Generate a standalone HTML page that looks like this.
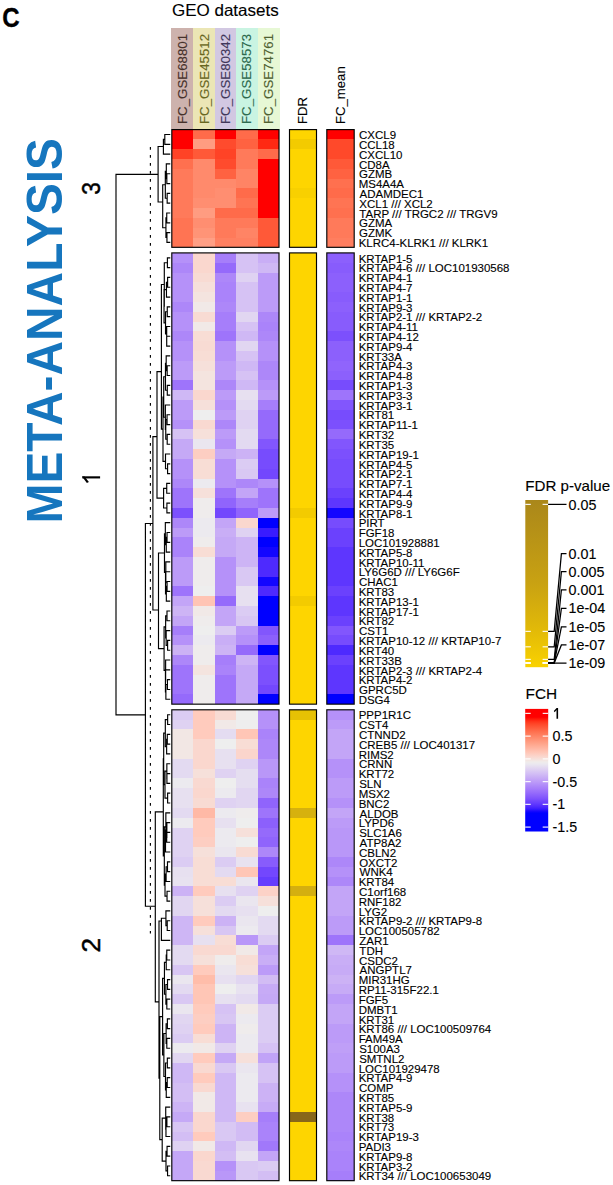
<!DOCTYPE html>
<html><head><meta charset="utf-8"><style>
html,body{margin:0;padding:0;background:#fff;overflow:hidden;}
svg{display:block;}
text{font-family:"Liberation Sans",sans-serif;}
</style></head><body>
<svg width="613" height="1185" viewBox="0 0 613 1185">
<rect x="0" y="0" width="613" height="1185" fill="#fff"/>
<rect x="171.20" y="28.10" width="22.09" height="100.60" fill="#cdb2ad" shape-rendering="crispEdges"/>
<rect x="193.24" y="28.10" width="21.49" height="100.60" fill="#ebe6b5" shape-rendering="crispEdges"/>
<rect x="214.68" y="28.10" width="21.49" height="100.60" fill="#d2c8e2" shape-rendering="crispEdges"/>
<rect x="236.12" y="28.10" width="21.49" height="100.60" fill="#c9f4e2" shape-rendering="crispEdges"/>
<rect x="257.56" y="28.10" width="22.04" height="100.60" fill="#e7f8d5" shape-rendering="crispEdges"/>
<rect x="171.80" y="129.60" width="21.49" height="9.86" fill="#ff0000" shape-rendering="crispEdges"/>
<rect x="193.24" y="129.60" width="21.49" height="9.86" fill="#ff6b4a" shape-rendering="crispEdges"/>
<rect x="214.68" y="129.60" width="21.49" height="9.86" fill="#ff0000" shape-rendering="crispEdges"/>
<rect x="236.12" y="129.60" width="21.49" height="9.86" fill="#ff6b4a" shape-rendering="crispEdges"/>
<rect x="257.56" y="129.60" width="21.49" height="9.86" fill="#ff0000" shape-rendering="crispEdges"/>
<rect x="289.50" y="129.60" width="27.00" height="9.86" fill="#fed500" shape-rendering="crispEdges"/>
<rect x="326.80" y="129.60" width="27.40" height="9.86" fill="#ff0000" shape-rendering="crispEdges"/>
<rect x="171.80" y="139.41" width="21.49" height="9.86" fill="#ff0000" shape-rendering="crispEdges"/>
<rect x="193.24" y="139.41" width="21.49" height="9.86" fill="#ff9c81" shape-rendering="crispEdges"/>
<rect x="214.68" y="139.41" width="21.49" height="9.86" fill="#ff4b2d" shape-rendering="crispEdges"/>
<rect x="236.12" y="139.41" width="21.49" height="9.86" fill="#ff6241" shape-rendering="crispEdges"/>
<rect x="257.56" y="139.41" width="21.49" height="9.86" fill="#ff2913" shape-rendering="crispEdges"/>
<rect x="289.50" y="139.41" width="27.00" height="9.86" fill="#f3cb00" shape-rendering="crispEdges"/>
<rect x="326.80" y="139.41" width="27.40" height="9.86" fill="#ff492a" shape-rendering="crispEdges"/>
<rect x="171.80" y="149.22" width="21.49" height="9.86" fill="#ff4326" shape-rendering="crispEdges"/>
<rect x="193.24" y="149.22" width="21.49" height="9.86" fill="#ff5938" shape-rendering="crispEdges"/>
<rect x="214.68" y="149.22" width="21.49" height="9.86" fill="#ff4326" shape-rendering="crispEdges"/>
<rect x="236.12" y="149.22" width="21.49" height="9.86" fill="#ff7a5a" shape-rendering="crispEdges"/>
<rect x="257.56" y="149.22" width="21.49" height="9.86" fill="#ff6b4a" shape-rendering="crispEdges"/>
<rect x="289.50" y="149.22" width="27.00" height="9.86" fill="#fed500" shape-rendering="crispEdges"/>
<rect x="326.80" y="149.22" width="27.40" height="9.86" fill="#ff492a" shape-rendering="crispEdges"/>
<rect x="171.80" y="159.03" width="21.49" height="9.86" fill="#ff704f" shape-rendering="crispEdges"/>
<rect x="193.24" y="159.03" width="21.49" height="9.86" fill="#ff8a6c" shape-rendering="crispEdges"/>
<rect x="214.68" y="159.03" width="21.49" height="9.86" fill="#ff4b2d" shape-rendering="crispEdges"/>
<rect x="236.12" y="159.03" width="21.49" height="9.86" fill="#ff7a5a" shape-rendering="crispEdges"/>
<rect x="257.56" y="159.03" width="21.49" height="9.86" fill="#ff0000" shape-rendering="crispEdges"/>
<rect x="289.50" y="159.03" width="27.00" height="9.86" fill="#fed500" shape-rendering="crispEdges"/>
<rect x="326.80" y="159.03" width="27.40" height="9.86" fill="#ff5938" shape-rendering="crispEdges"/>
<rect x="171.80" y="168.84" width="21.49" height="9.86" fill="#ff7a5a" shape-rendering="crispEdges"/>
<rect x="193.24" y="168.84" width="21.49" height="9.86" fill="#ff8a6c" shape-rendering="crispEdges"/>
<rect x="214.68" y="168.84" width="21.49" height="9.86" fill="#ff6241" shape-rendering="crispEdges"/>
<rect x="236.12" y="168.84" width="21.49" height="9.86" fill="#ff8465" shape-rendering="crispEdges"/>
<rect x="257.56" y="168.84" width="21.49" height="9.86" fill="#ff0000" shape-rendering="crispEdges"/>
<rect x="289.50" y="168.84" width="27.00" height="9.86" fill="#fed500" shape-rendering="crispEdges"/>
<rect x="326.80" y="168.84" width="27.40" height="9.86" fill="#ff6241" shape-rendering="crispEdges"/>
<rect x="171.80" y="178.65" width="21.49" height="9.86" fill="#ff7a5a" shape-rendering="crispEdges"/>
<rect x="193.24" y="178.65" width="21.49" height="9.86" fill="#ff8a6c" shape-rendering="crispEdges"/>
<rect x="214.68" y="178.65" width="21.49" height="9.86" fill="#ff8a6c" shape-rendering="crispEdges"/>
<rect x="236.12" y="178.65" width="21.49" height="9.86" fill="#ff8465" shape-rendering="crispEdges"/>
<rect x="257.56" y="178.65" width="21.49" height="9.86" fill="#ff0000" shape-rendering="crispEdges"/>
<rect x="289.50" y="178.65" width="27.00" height="9.86" fill="#fed500" shape-rendering="crispEdges"/>
<rect x="326.80" y="178.65" width="27.40" height="9.86" fill="#ff704f" shape-rendering="crispEdges"/>
<rect x="171.80" y="188.46" width="21.49" height="9.86" fill="#ff7a5a" shape-rendering="crispEdges"/>
<rect x="193.24" y="188.46" width="21.49" height="9.86" fill="#ff8a6c" shape-rendering="crispEdges"/>
<rect x="214.68" y="188.46" width="21.49" height="9.86" fill="#ff8e71" shape-rendering="crispEdges"/>
<rect x="236.12" y="188.46" width="21.49" height="9.86" fill="#ff6b4a" shape-rendering="crispEdges"/>
<rect x="257.56" y="188.46" width="21.49" height="9.86" fill="#ff0000" shape-rendering="crispEdges"/>
<rect x="289.50" y="188.46" width="27.00" height="9.86" fill="#f8d000" shape-rendering="crispEdges"/>
<rect x="326.80" y="188.46" width="27.40" height="9.86" fill="#ff6b4a" shape-rendering="crispEdges"/>
<rect x="171.80" y="198.27" width="21.49" height="9.86" fill="#ff7a5a" shape-rendering="crispEdges"/>
<rect x="193.24" y="198.27" width="21.49" height="9.86" fill="#ff8e71" shape-rendering="crispEdges"/>
<rect x="214.68" y="198.27" width="21.49" height="9.86" fill="#ff8e71" shape-rendering="crispEdges"/>
<rect x="236.12" y="198.27" width="21.49" height="9.86" fill="#ff7453" shape-rendering="crispEdges"/>
<rect x="257.56" y="198.27" width="21.49" height="9.86" fill="#ff0000" shape-rendering="crispEdges"/>
<rect x="289.50" y="198.27" width="27.00" height="9.86" fill="#fed500" shape-rendering="crispEdges"/>
<rect x="326.80" y="198.27" width="27.40" height="9.86" fill="#ff7453" shape-rendering="crispEdges"/>
<rect x="171.80" y="208.08" width="21.49" height="9.86" fill="#ff7a5a" shape-rendering="crispEdges"/>
<rect x="193.24" y="208.08" width="21.49" height="9.86" fill="#ff9c81" shape-rendering="crispEdges"/>
<rect x="214.68" y="208.08" width="21.49" height="9.86" fill="#ff6b4a" shape-rendering="crispEdges"/>
<rect x="236.12" y="208.08" width="21.49" height="9.86" fill="#ff6b4a" shape-rendering="crispEdges"/>
<rect x="257.56" y="208.08" width="21.49" height="9.86" fill="#ff0000" shape-rendering="crispEdges"/>
<rect x="289.50" y="208.08" width="27.00" height="9.86" fill="#fed500" shape-rendering="crispEdges"/>
<rect x="326.80" y="208.08" width="27.40" height="9.86" fill="#ff704f" shape-rendering="crispEdges"/>
<rect x="171.80" y="217.89" width="21.49" height="9.86" fill="#ff7453" shape-rendering="crispEdges"/>
<rect x="193.24" y="217.89" width="21.49" height="9.86" fill="#ff8e71" shape-rendering="crispEdges"/>
<rect x="214.68" y="217.89" width="21.49" height="9.86" fill="#ff7a5a" shape-rendering="crispEdges"/>
<rect x="236.12" y="217.89" width="21.49" height="9.86" fill="#ff7a5a" shape-rendering="crispEdges"/>
<rect x="257.56" y="217.89" width="21.49" height="9.86" fill="#ff5938" shape-rendering="crispEdges"/>
<rect x="289.50" y="217.89" width="27.00" height="9.86" fill="#fed500" shape-rendering="crispEdges"/>
<rect x="326.80" y="217.89" width="27.40" height="9.86" fill="#ff7a5a" shape-rendering="crispEdges"/>
<rect x="171.80" y="227.70" width="21.49" height="9.86" fill="#ff7453" shape-rendering="crispEdges"/>
<rect x="193.24" y="227.70" width="21.49" height="9.86" fill="#ff9477" shape-rendering="crispEdges"/>
<rect x="214.68" y="227.70" width="21.49" height="9.86" fill="#ff7a5a" shape-rendering="crispEdges"/>
<rect x="236.12" y="227.70" width="21.49" height="9.86" fill="#ff8465" shape-rendering="crispEdges"/>
<rect x="257.56" y="227.70" width="21.49" height="9.86" fill="#ff5938" shape-rendering="crispEdges"/>
<rect x="289.50" y="227.70" width="27.00" height="9.86" fill="#fed500" shape-rendering="crispEdges"/>
<rect x="326.80" y="227.70" width="27.40" height="9.86" fill="#ff7a5a" shape-rendering="crispEdges"/>
<rect x="171.80" y="237.51" width="21.49" height="9.86" fill="#ff7453" shape-rendering="crispEdges"/>
<rect x="193.24" y="237.51" width="21.49" height="9.86" fill="#ff9f85" shape-rendering="crispEdges"/>
<rect x="214.68" y="237.51" width="21.49" height="9.86" fill="#ff8061" shape-rendering="crispEdges"/>
<rect x="236.12" y="237.51" width="21.49" height="9.86" fill="#ff8061" shape-rendering="crispEdges"/>
<rect x="257.56" y="237.51" width="21.49" height="9.86" fill="#ff5938" shape-rendering="crispEdges"/>
<rect x="289.50" y="237.51" width="27.00" height="9.86" fill="#fed500" shape-rendering="crispEdges"/>
<rect x="326.80" y="237.51" width="27.40" height="9.86" fill="#ff7e5f" shape-rendering="crispEdges"/>
<rect x="171.80" y="129.60" width="107.20" height="117.72" fill="none" stroke="#000" stroke-width="1.15"/>
<rect x="289.50" y="129.60" width="27.00" height="117.72" fill="none" stroke="#000" stroke-width="1.15"/>
<rect x="326.80" y="129.60" width="27.40" height="117.72" fill="none" stroke="#000" stroke-width="1.15"/>
<rect x="171.80" y="252.90" width="21.49" height="9.86" fill="#b591f9" shape-rendering="crispEdges"/>
<rect x="193.24" y="252.90" width="21.49" height="9.86" fill="#fad7ce" shape-rendering="crispEdges"/>
<rect x="214.68" y="252.90" width="21.49" height="9.86" fill="#a67efa" shape-rendering="crispEdges"/>
<rect x="236.12" y="252.90" width="21.49" height="9.86" fill="#d6c2f4" shape-rendering="crispEdges"/>
<rect x="257.56" y="252.90" width="21.49" height="9.86" fill="#c9aef6" shape-rendering="crispEdges"/>
<rect x="289.50" y="252.90" width="27.00" height="9.86" fill="#fed500" shape-rendering="crispEdges"/>
<rect x="326.80" y="252.90" width="27.40" height="9.86" fill="#8c60fc" shape-rendering="crispEdges"/>
<rect x="171.80" y="262.71" width="21.49" height="9.86" fill="#ad87f9" shape-rendering="crispEdges"/>
<rect x="193.24" y="262.71" width="21.49" height="9.86" fill="#fad7ce" shape-rendering="crispEdges"/>
<rect x="214.68" y="262.71" width="21.49" height="9.86" fill="#956afb" shape-rendering="crispEdges"/>
<rect x="236.12" y="262.71" width="21.49" height="9.86" fill="#d6c2f4" shape-rendering="crispEdges"/>
<rect x="257.56" y="262.71" width="21.49" height="9.86" fill="#cfb8f5" shape-rendering="crispEdges"/>
<rect x="289.50" y="262.71" width="27.00" height="9.86" fill="#fed500" shape-rendering="crispEdges"/>
<rect x="326.80" y="262.71" width="27.40" height="9.86" fill="#885cfc" shape-rendering="crispEdges"/>
<rect x="171.80" y="272.52" width="21.49" height="9.86" fill="#b591f9" shape-rendering="crispEdges"/>
<rect x="193.24" y="272.52" width="21.49" height="9.86" fill="#f8dbd3" shape-rendering="crispEdges"/>
<rect x="214.68" y="272.52" width="21.49" height="9.86" fill="#ad87f9" shape-rendering="crispEdges"/>
<rect x="236.12" y="272.52" width="21.49" height="9.86" fill="#dfd2f2" shape-rendering="crispEdges"/>
<rect x="257.56" y="272.52" width="21.49" height="9.86" fill="#bc9bf8" shape-rendering="crispEdges"/>
<rect x="289.50" y="272.52" width="27.00" height="9.86" fill="#fed500" shape-rendering="crispEdges"/>
<rect x="326.80" y="272.52" width="27.40" height="9.86" fill="#8c60fc" shape-rendering="crispEdges"/>
<rect x="171.80" y="282.33" width="21.49" height="9.86" fill="#b591f9" shape-rendering="crispEdges"/>
<rect x="193.24" y="282.33" width="21.49" height="9.86" fill="#f6e0da" shape-rendering="crispEdges"/>
<rect x="214.68" y="282.33" width="21.49" height="9.86" fill="#aa83fa" shape-rendering="crispEdges"/>
<rect x="236.12" y="282.33" width="21.49" height="9.86" fill="#d6c2f4" shape-rendering="crispEdges"/>
<rect x="257.56" y="282.33" width="21.49" height="9.86" fill="#bc9bf8" shape-rendering="crispEdges"/>
<rect x="289.50" y="282.33" width="27.00" height="9.86" fill="#fed500" shape-rendering="crispEdges"/>
<rect x="326.80" y="282.33" width="27.40" height="9.86" fill="#8c60fc" shape-rendering="crispEdges"/>
<rect x="171.80" y="292.14" width="21.49" height="9.86" fill="#b591f9" shape-rendering="crispEdges"/>
<rect x="193.24" y="292.14" width="21.49" height="9.86" fill="#f4e4df" shape-rendering="crispEdges"/>
<rect x="214.68" y="292.14" width="21.49" height="9.86" fill="#aa83fa" shape-rendering="crispEdges"/>
<rect x="236.12" y="292.14" width="21.49" height="9.86" fill="#d6c2f4" shape-rendering="crispEdges"/>
<rect x="257.56" y="292.14" width="21.49" height="9.86" fill="#bc9bf8" shape-rendering="crispEdges"/>
<rect x="289.50" y="292.14" width="27.00" height="9.86" fill="#fed500" shape-rendering="crispEdges"/>
<rect x="326.80" y="292.14" width="27.40" height="9.86" fill="#885cfc" shape-rendering="crispEdges"/>
<rect x="171.80" y="301.95" width="21.49" height="9.86" fill="#ad87f9" shape-rendering="crispEdges"/>
<rect x="193.24" y="301.95" width="21.49" height="9.86" fill="#f1e9e7" shape-rendering="crispEdges"/>
<rect x="214.68" y="301.95" width="21.49" height="9.86" fill="#ad87f9" shape-rendering="crispEdges"/>
<rect x="236.12" y="301.95" width="21.49" height="9.86" fill="#d6c2f4" shape-rendering="crispEdges"/>
<rect x="257.56" y="301.95" width="21.49" height="9.86" fill="#bc9bf8" shape-rendering="crispEdges"/>
<rect x="289.50" y="301.95" width="27.00" height="9.86" fill="#fed500" shape-rendering="crispEdges"/>
<rect x="326.80" y="301.95" width="27.40" height="9.86" fill="#8c60fc" shape-rendering="crispEdges"/>
<rect x="171.80" y="311.76" width="21.49" height="9.86" fill="#b591f9" shape-rendering="crispEdges"/>
<rect x="193.24" y="311.76" width="21.49" height="9.86" fill="#f8dbd3" shape-rendering="crispEdges"/>
<rect x="214.68" y="311.76" width="21.49" height="9.86" fill="#a67efa" shape-rendering="crispEdges"/>
<rect x="236.12" y="311.76" width="21.49" height="9.86" fill="#e1d6f1" shape-rendering="crispEdges"/>
<rect x="257.56" y="311.76" width="21.49" height="9.86" fill="#ad87f9" shape-rendering="crispEdges"/>
<rect x="289.50" y="311.76" width="27.00" height="9.86" fill="#fed500" shape-rendering="crispEdges"/>
<rect x="326.80" y="311.76" width="27.40" height="9.86" fill="#885cfc" shape-rendering="crispEdges"/>
<rect x="171.80" y="321.57" width="21.49" height="9.86" fill="#b591f9" shape-rendering="crispEdges"/>
<rect x="193.24" y="321.57" width="21.49" height="9.86" fill="#f1e9e7" shape-rendering="crispEdges"/>
<rect x="214.68" y="321.57" width="21.49" height="9.86" fill="#a67efa" shape-rendering="crispEdges"/>
<rect x="236.12" y="321.57" width="21.49" height="9.86" fill="#d6c2f4" shape-rendering="crispEdges"/>
<rect x="257.56" y="321.57" width="21.49" height="9.86" fill="#aa83fa" shape-rendering="crispEdges"/>
<rect x="289.50" y="321.57" width="27.00" height="9.86" fill="#fed500" shape-rendering="crispEdges"/>
<rect x="326.80" y="321.57" width="27.40" height="9.86" fill="#885cfc" shape-rendering="crispEdges"/>
<rect x="171.80" y="331.38" width="21.49" height="9.86" fill="#ad87f9" shape-rendering="crispEdges"/>
<rect x="193.24" y="331.38" width="21.49" height="9.86" fill="#f8ddd5" shape-rendering="crispEdges"/>
<rect x="214.68" y="331.38" width="21.49" height="9.86" fill="#9e74fb" shape-rendering="crispEdges"/>
<rect x="236.12" y="331.38" width="21.49" height="9.86" fill="#cfb8f5" shape-rendering="crispEdges"/>
<rect x="257.56" y="331.38" width="21.49" height="9.86" fill="#ad87f9" shape-rendering="crispEdges"/>
<rect x="289.50" y="331.38" width="27.00" height="9.86" fill="#fed500" shape-rendering="crispEdges"/>
<rect x="326.80" y="331.38" width="27.40" height="9.86" fill="#7c50fd" shape-rendering="crispEdges"/>
<rect x="171.80" y="341.19" width="21.49" height="9.86" fill="#b591f9" shape-rendering="crispEdges"/>
<rect x="193.24" y="341.19" width="21.49" height="9.86" fill="#f8dbd3" shape-rendering="crispEdges"/>
<rect x="214.68" y="341.19" width="21.49" height="9.86" fill="#b591f9" shape-rendering="crispEdges"/>
<rect x="236.12" y="341.19" width="21.49" height="9.86" fill="#e1d6f1" shape-rendering="crispEdges"/>
<rect x="257.56" y="341.19" width="21.49" height="9.86" fill="#b591f9" shape-rendering="crispEdges"/>
<rect x="289.50" y="341.19" width="27.00" height="9.86" fill="#fed500" shape-rendering="crispEdges"/>
<rect x="326.80" y="341.19" width="27.40" height="9.86" fill="#8c60fc" shape-rendering="crispEdges"/>
<rect x="171.80" y="351.00" width="21.49" height="9.86" fill="#b591f9" shape-rendering="crispEdges"/>
<rect x="193.24" y="351.00" width="21.49" height="9.86" fill="#f8ddd5" shape-rendering="crispEdges"/>
<rect x="214.68" y="351.00" width="21.49" height="9.86" fill="#b591f9" shape-rendering="crispEdges"/>
<rect x="236.12" y="351.00" width="21.49" height="9.86" fill="#d6c2f4" shape-rendering="crispEdges"/>
<rect x="257.56" y="351.00" width="21.49" height="9.86" fill="#b591f9" shape-rendering="crispEdges"/>
<rect x="289.50" y="351.00" width="27.00" height="9.86" fill="#fed500" shape-rendering="crispEdges"/>
<rect x="326.80" y="351.00" width="27.40" height="9.86" fill="#8c60fc" shape-rendering="crispEdges"/>
<rect x="171.80" y="360.81" width="21.49" height="9.86" fill="#bc9bf8" shape-rendering="crispEdges"/>
<rect x="193.24" y="360.81" width="21.49" height="9.86" fill="#f6e0da" shape-rendering="crispEdges"/>
<rect x="214.68" y="360.81" width="21.49" height="9.86" fill="#bc9bf8" shape-rendering="crispEdges"/>
<rect x="236.12" y="360.81" width="21.49" height="9.86" fill="#cfb8f5" shape-rendering="crispEdges"/>
<rect x="257.56" y="360.81" width="21.49" height="9.86" fill="#ad87f9" shape-rendering="crispEdges"/>
<rect x="289.50" y="360.81" width="27.00" height="9.86" fill="#fed500" shape-rendering="crispEdges"/>
<rect x="326.80" y="360.81" width="27.40" height="9.86" fill="#9064fc" shape-rendering="crispEdges"/>
<rect x="171.80" y="370.62" width="21.49" height="9.86" fill="#bc9bf8" shape-rendering="crispEdges"/>
<rect x="193.24" y="370.62" width="21.49" height="9.86" fill="#f4e4df" shape-rendering="crispEdges"/>
<rect x="214.68" y="370.62" width="21.49" height="9.86" fill="#bc9bf8" shape-rendering="crispEdges"/>
<rect x="236.12" y="370.62" width="21.49" height="9.86" fill="#d6c2f4" shape-rendering="crispEdges"/>
<rect x="257.56" y="370.62" width="21.49" height="9.86" fill="#ad87f9" shape-rendering="crispEdges"/>
<rect x="289.50" y="370.62" width="27.00" height="9.86" fill="#fed500" shape-rendering="crispEdges"/>
<rect x="326.80" y="370.62" width="27.40" height="9.86" fill="#8c60fc" shape-rendering="crispEdges"/>
<rect x="171.80" y="380.43" width="21.49" height="9.86" fill="#9e74fb" shape-rendering="crispEdges"/>
<rect x="193.24" y="380.43" width="21.49" height="9.86" fill="#f4e4df" shape-rendering="crispEdges"/>
<rect x="214.68" y="380.43" width="21.49" height="9.86" fill="#ad87f9" shape-rendering="crispEdges"/>
<rect x="236.12" y="380.43" width="21.49" height="9.86" fill="#cfb8f5" shape-rendering="crispEdges"/>
<rect x="257.56" y="380.43" width="21.49" height="9.86" fill="#b591f9" shape-rendering="crispEdges"/>
<rect x="289.50" y="380.43" width="27.00" height="9.86" fill="#fed500" shape-rendering="crispEdges"/>
<rect x="326.80" y="380.43" width="27.40" height="9.86" fill="#774cfd" shape-rendering="crispEdges"/>
<rect x="171.80" y="390.24" width="21.49" height="9.86" fill="#cfb8f5" shape-rendering="crispEdges"/>
<rect x="193.24" y="390.24" width="21.49" height="9.86" fill="#fad7ce" shape-rendering="crispEdges"/>
<rect x="214.68" y="390.24" width="21.49" height="9.86" fill="#bc9bf8" shape-rendering="crispEdges"/>
<rect x="236.12" y="390.24" width="21.49" height="9.86" fill="#e7e0f0" shape-rendering="crispEdges"/>
<rect x="257.56" y="390.24" width="21.49" height="9.86" fill="#bc9bf8" shape-rendering="crispEdges"/>
<rect x="289.50" y="390.24" width="27.00" height="9.86" fill="#fed500" shape-rendering="crispEdges"/>
<rect x="326.80" y="390.24" width="27.40" height="9.86" fill="#9e74fb" shape-rendering="crispEdges"/>
<rect x="171.80" y="400.05" width="21.49" height="9.86" fill="#bc9bf8" shape-rendering="crispEdges"/>
<rect x="193.24" y="400.05" width="21.49" height="9.86" fill="#f6e0da" shape-rendering="crispEdges"/>
<rect x="214.68" y="400.05" width="21.49" height="9.86" fill="#b591f9" shape-rendering="crispEdges"/>
<rect x="236.12" y="400.05" width="21.49" height="9.86" fill="#e3daf1" shape-rendering="crispEdges"/>
<rect x="257.56" y="400.05" width="21.49" height="9.86" fill="#a67efa" shape-rendering="crispEdges"/>
<rect x="289.50" y="400.05" width="27.00" height="9.86" fill="#fed500" shape-rendering="crispEdges"/>
<rect x="326.80" y="400.05" width="27.40" height="9.86" fill="#8256fd" shape-rendering="crispEdges"/>
<rect x="171.80" y="409.86" width="21.49" height="9.86" fill="#bc9bf8" shape-rendering="crispEdges"/>
<rect x="193.24" y="409.86" width="21.49" height="9.86" fill="#eeeeee" shape-rendering="crispEdges"/>
<rect x="214.68" y="409.86" width="21.49" height="9.86" fill="#bc9bf8" shape-rendering="crispEdges"/>
<rect x="236.12" y="409.86" width="21.49" height="9.86" fill="#dfd2f2" shape-rendering="crispEdges"/>
<rect x="257.56" y="409.86" width="21.49" height="9.86" fill="#956afb" shape-rendering="crispEdges"/>
<rect x="289.50" y="409.86" width="27.00" height="9.86" fill="#fed500" shape-rendering="crispEdges"/>
<rect x="326.80" y="409.86" width="27.40" height="9.86" fill="#774cfd" shape-rendering="crispEdges"/>
<rect x="171.80" y="419.67" width="21.49" height="9.86" fill="#b591f9" shape-rendering="crispEdges"/>
<rect x="193.24" y="419.67" width="21.49" height="9.86" fill="#f9d9d1" shape-rendering="crispEdges"/>
<rect x="214.68" y="419.67" width="21.49" height="9.86" fill="#ad87f9" shape-rendering="crispEdges"/>
<rect x="236.12" y="419.67" width="21.49" height="9.86" fill="#dfd2f2" shape-rendering="crispEdges"/>
<rect x="257.56" y="419.67" width="21.49" height="9.86" fill="#956afb" shape-rendering="crispEdges"/>
<rect x="289.50" y="419.67" width="27.00" height="9.86" fill="#fed500" shape-rendering="crispEdges"/>
<rect x="326.80" y="419.67" width="27.40" height="9.86" fill="#7c50fd" shape-rendering="crispEdges"/>
<rect x="171.80" y="429.48" width="21.49" height="9.86" fill="#d6c2f4" shape-rendering="crispEdges"/>
<rect x="193.24" y="429.48" width="21.49" height="9.86" fill="#f6e0da" shape-rendering="crispEdges"/>
<rect x="214.68" y="429.48" width="21.49" height="9.86" fill="#bc9bf8" shape-rendering="crispEdges"/>
<rect x="236.12" y="429.48" width="21.49" height="9.86" fill="#e3daf1" shape-rendering="crispEdges"/>
<rect x="257.56" y="429.48" width="21.49" height="9.86" fill="#956afb" shape-rendering="crispEdges"/>
<rect x="289.50" y="429.48" width="27.00" height="9.86" fill="#fed500" shape-rendering="crispEdges"/>
<rect x="326.80" y="429.48" width="27.40" height="9.86" fill="#956afb" shape-rendering="crispEdges"/>
<rect x="171.80" y="439.29" width="21.49" height="9.86" fill="#c5a9f6" shape-rendering="crispEdges"/>
<rect x="193.24" y="439.29" width="21.49" height="9.86" fill="#eae6ef" shape-rendering="crispEdges"/>
<rect x="214.68" y="439.29" width="21.49" height="9.86" fill="#b591f9" shape-rendering="crispEdges"/>
<rect x="236.12" y="439.29" width="21.49" height="9.86" fill="#e3daf1" shape-rendering="crispEdges"/>
<rect x="257.56" y="439.29" width="21.49" height="9.86" fill="#8256fd" shape-rendering="crispEdges"/>
<rect x="289.50" y="439.29" width="27.00" height="9.86" fill="#fed500" shape-rendering="crispEdges"/>
<rect x="326.80" y="439.29" width="27.40" height="9.86" fill="#8256fd" shape-rendering="crispEdges"/>
<rect x="171.80" y="449.10" width="21.49" height="9.86" fill="#c5a9f6" shape-rendering="crispEdges"/>
<rect x="193.24" y="449.10" width="21.49" height="9.86" fill="#fdcec2" shape-rendering="crispEdges"/>
<rect x="214.68" y="449.10" width="21.49" height="9.86" fill="#c5a9f6" shape-rendering="crispEdges"/>
<rect x="236.12" y="449.10" width="21.49" height="9.86" fill="#ccb2f5" shape-rendering="crispEdges"/>
<rect x="257.56" y="449.10" width="21.49" height="9.86" fill="#774cfd" shape-rendering="crispEdges"/>
<rect x="289.50" y="449.10" width="27.00" height="9.86" fill="#fed500" shape-rendering="crispEdges"/>
<rect x="326.80" y="449.10" width="27.40" height="9.86" fill="#7c50fd" shape-rendering="crispEdges"/>
<rect x="171.80" y="458.91" width="21.49" height="9.86" fill="#b591f9" shape-rendering="crispEdges"/>
<rect x="193.24" y="458.91" width="21.49" height="9.86" fill="#f8ddd5" shape-rendering="crispEdges"/>
<rect x="214.68" y="458.91" width="21.49" height="9.86" fill="#b591f9" shape-rendering="crispEdges"/>
<rect x="236.12" y="458.91" width="21.49" height="9.86" fill="#dbccf3" shape-rendering="crispEdges"/>
<rect x="257.56" y="458.91" width="21.49" height="9.86" fill="#774cfd" shape-rendering="crispEdges"/>
<rect x="289.50" y="458.91" width="27.00" height="9.86" fill="#fed500" shape-rendering="crispEdges"/>
<rect x="326.80" y="458.91" width="27.40" height="9.86" fill="#774cfd" shape-rendering="crispEdges"/>
<rect x="171.80" y="468.72" width="21.49" height="9.86" fill="#b591f9" shape-rendering="crispEdges"/>
<rect x="193.24" y="468.72" width="21.49" height="9.86" fill="#f8ddd5" shape-rendering="crispEdges"/>
<rect x="214.68" y="468.72" width="21.49" height="9.86" fill="#b591f9" shape-rendering="crispEdges"/>
<rect x="236.12" y="468.72" width="21.49" height="9.86" fill="#d9c8f3" shape-rendering="crispEdges"/>
<rect x="257.56" y="468.72" width="21.49" height="9.86" fill="#7347fd" shape-rendering="crispEdges"/>
<rect x="289.50" y="468.72" width="27.00" height="9.86" fill="#fed500" shape-rendering="crispEdges"/>
<rect x="326.80" y="468.72" width="27.40" height="9.86" fill="#774cfd" shape-rendering="crispEdges"/>
<rect x="171.80" y="478.53" width="21.49" height="9.86" fill="#ad87f9" shape-rendering="crispEdges"/>
<rect x="193.24" y="478.53" width="21.49" height="9.86" fill="#eceaef" shape-rendering="crispEdges"/>
<rect x="214.68" y="478.53" width="21.49" height="9.86" fill="#b591f9" shape-rendering="crispEdges"/>
<rect x="236.12" y="478.53" width="21.49" height="9.86" fill="#ad87f9" shape-rendering="crispEdges"/>
<rect x="257.56" y="478.53" width="21.49" height="9.86" fill="#b591f9" shape-rendering="crispEdges"/>
<rect x="289.50" y="478.53" width="27.00" height="9.86" fill="#fed500" shape-rendering="crispEdges"/>
<rect x="326.80" y="478.53" width="27.40" height="9.86" fill="#774cfd" shape-rendering="crispEdges"/>
<rect x="171.80" y="488.34" width="21.49" height="9.86" fill="#9e74fb" shape-rendering="crispEdges"/>
<rect x="193.24" y="488.34" width="21.49" height="9.86" fill="#f6e0da" shape-rendering="crispEdges"/>
<rect x="214.68" y="488.34" width="21.49" height="9.86" fill="#9e74fb" shape-rendering="crispEdges"/>
<rect x="236.12" y="488.34" width="21.49" height="9.86" fill="#c3a5f7" shape-rendering="crispEdges"/>
<rect x="257.56" y="488.34" width="21.49" height="9.86" fill="#9e74fb" shape-rendering="crispEdges"/>
<rect x="289.50" y="488.34" width="27.00" height="9.86" fill="#fed500" shape-rendering="crispEdges"/>
<rect x="326.80" y="488.34" width="27.40" height="9.86" fill="#6b41fd" shape-rendering="crispEdges"/>
<rect x="171.80" y="498.15" width="21.49" height="9.86" fill="#9e74fb" shape-rendering="crispEdges"/>
<rect x="193.24" y="498.15" width="21.49" height="9.86" fill="#efecec" shape-rendering="crispEdges"/>
<rect x="214.68" y="498.15" width="21.49" height="9.86" fill="#9064fc" shape-rendering="crispEdges"/>
<rect x="236.12" y="498.15" width="21.49" height="9.86" fill="#a67efa" shape-rendering="crispEdges"/>
<rect x="257.56" y="498.15" width="21.49" height="9.86" fill="#9e74fb" shape-rendering="crispEdges"/>
<rect x="289.50" y="498.15" width="27.00" height="9.86" fill="#fed500" shape-rendering="crispEdges"/>
<rect x="326.80" y="498.15" width="27.40" height="9.86" fill="#5e36fe" shape-rendering="crispEdges"/>
<rect x="171.80" y="507.96" width="21.49" height="9.86" fill="#7c50fd" shape-rendering="crispEdges"/>
<rect x="193.24" y="507.96" width="21.49" height="9.86" fill="#efecec" shape-rendering="crispEdges"/>
<rect x="214.68" y="507.96" width="21.49" height="9.86" fill="#7347fd" shape-rendering="crispEdges"/>
<rect x="236.12" y="507.96" width="21.49" height="9.86" fill="#9064fc" shape-rendering="crispEdges"/>
<rect x="257.56" y="507.96" width="21.49" height="9.86" fill="#bc9bf8" shape-rendering="crispEdges"/>
<rect x="289.50" y="507.96" width="27.00" height="9.86" fill="#f3cb00" shape-rendering="crispEdges"/>
<rect x="326.80" y="507.96" width="27.40" height="9.86" fill="#1306ff" shape-rendering="crispEdges"/>
<rect x="171.80" y="517.77" width="21.49" height="9.86" fill="#ad87f9" shape-rendering="crispEdges"/>
<rect x="193.24" y="517.77" width="21.49" height="9.86" fill="#eceaef" shape-rendering="crispEdges"/>
<rect x="214.68" y="517.77" width="21.49" height="9.86" fill="#c3a5f7" shape-rendering="crispEdges"/>
<rect x="236.12" y="517.77" width="21.49" height="9.86" fill="#fad7ce" shape-rendering="crispEdges"/>
<rect x="257.56" y="517.77" width="21.49" height="9.86" fill="#0000ff" shape-rendering="crispEdges"/>
<rect x="289.50" y="517.77" width="27.00" height="9.86" fill="#fed500" shape-rendering="crispEdges"/>
<rect x="326.80" y="517.77" width="27.40" height="9.86" fill="#774cfd" shape-rendering="crispEdges"/>
<rect x="171.80" y="527.58" width="21.49" height="9.86" fill="#bc9bf8" shape-rendering="crispEdges"/>
<rect x="193.24" y="527.58" width="21.49" height="9.86" fill="#eceaef" shape-rendering="crispEdges"/>
<rect x="214.68" y="527.58" width="21.49" height="9.86" fill="#c9aef6" shape-rendering="crispEdges"/>
<rect x="236.12" y="527.58" width="21.49" height="9.86" fill="#dfd2f2" shape-rendering="crispEdges"/>
<rect x="257.56" y="527.58" width="21.49" height="9.86" fill="#391bff" shape-rendering="crispEdges"/>
<rect x="289.50" y="527.58" width="27.00" height="9.86" fill="#fed500" shape-rendering="crispEdges"/>
<rect x="326.80" y="527.58" width="27.40" height="9.86" fill="#6b41fd" shape-rendering="crispEdges"/>
<rect x="171.80" y="537.39" width="21.49" height="9.86" fill="#aa83fa" shape-rendering="crispEdges"/>
<rect x="193.24" y="537.39" width="21.49" height="9.86" fill="#efecec" shape-rendering="crispEdges"/>
<rect x="214.68" y="537.39" width="21.49" height="9.86" fill="#c5a9f6" shape-rendering="crispEdges"/>
<rect x="236.12" y="537.39" width="21.49" height="9.86" fill="#cdb4f5" shape-rendering="crispEdges"/>
<rect x="257.56" y="537.39" width="21.49" height="9.86" fill="#0000ff" shape-rendering="crispEdges"/>
<rect x="289.50" y="537.39" width="27.00" height="9.86" fill="#fed500" shape-rendering="crispEdges"/>
<rect x="326.80" y="537.39" width="27.40" height="9.86" fill="#6b41fd" shape-rendering="crispEdges"/>
<rect x="171.80" y="547.20" width="21.49" height="9.86" fill="#aa83fa" shape-rendering="crispEdges"/>
<rect x="193.24" y="547.20" width="21.49" height="9.86" fill="#f8ddd5" shape-rendering="crispEdges"/>
<rect x="214.68" y="547.20" width="21.49" height="9.86" fill="#c5a9f6" shape-rendering="crispEdges"/>
<rect x="236.12" y="547.20" width="21.49" height="9.86" fill="#cdb4f5" shape-rendering="crispEdges"/>
<rect x="257.56" y="547.20" width="21.49" height="9.86" fill="#1306ff" shape-rendering="crispEdges"/>
<rect x="289.50" y="547.20" width="27.00" height="9.86" fill="#fed500" shape-rendering="crispEdges"/>
<rect x="326.80" y="547.20" width="27.40" height="9.86" fill="#5e36fe" shape-rendering="crispEdges"/>
<rect x="171.80" y="557.01" width="21.49" height="9.86" fill="#bc9bf8" shape-rendering="crispEdges"/>
<rect x="193.24" y="557.01" width="21.49" height="9.86" fill="#efecec" shape-rendering="crispEdges"/>
<rect x="214.68" y="557.01" width="21.49" height="9.86" fill="#b591f9" shape-rendering="crispEdges"/>
<rect x="236.12" y="557.01" width="21.49" height="9.86" fill="#cdb4f5" shape-rendering="crispEdges"/>
<rect x="257.56" y="557.01" width="21.49" height="9.86" fill="#4e2afe" shape-rendering="crispEdges"/>
<rect x="289.50" y="557.01" width="27.00" height="9.86" fill="#fed500" shape-rendering="crispEdges"/>
<rect x="326.80" y="557.01" width="27.40" height="9.86" fill="#5e36fe" shape-rendering="crispEdges"/>
<rect x="171.80" y="566.82" width="21.49" height="9.86" fill="#bc9bf8" shape-rendering="crispEdges"/>
<rect x="193.24" y="566.82" width="21.49" height="9.86" fill="#efecec" shape-rendering="crispEdges"/>
<rect x="214.68" y="566.82" width="21.49" height="9.86" fill="#b591f9" shape-rendering="crispEdges"/>
<rect x="236.12" y="566.82" width="21.49" height="9.86" fill="#d9c8f3" shape-rendering="crispEdges"/>
<rect x="257.56" y="566.82" width="21.49" height="9.86" fill="#4e2afe" shape-rendering="crispEdges"/>
<rect x="289.50" y="566.82" width="27.00" height="9.86" fill="#fed500" shape-rendering="crispEdges"/>
<rect x="326.80" y="566.82" width="27.40" height="9.86" fill="#5e36fe" shape-rendering="crispEdges"/>
<rect x="171.80" y="576.63" width="21.49" height="9.86" fill="#bc9bf8" shape-rendering="crispEdges"/>
<rect x="193.24" y="576.63" width="21.49" height="9.86" fill="#efecec" shape-rendering="crispEdges"/>
<rect x="214.68" y="576.63" width="21.49" height="9.86" fill="#b591f9" shape-rendering="crispEdges"/>
<rect x="236.12" y="576.63" width="21.49" height="9.86" fill="#d9c8f3" shape-rendering="crispEdges"/>
<rect x="257.56" y="576.63" width="21.49" height="9.86" fill="#1306ff" shape-rendering="crispEdges"/>
<rect x="289.50" y="576.63" width="27.00" height="9.86" fill="#fed500" shape-rendering="crispEdges"/>
<rect x="326.80" y="576.63" width="27.40" height="9.86" fill="#5e36fe" shape-rendering="crispEdges"/>
<rect x="171.80" y="586.44" width="21.49" height="9.86" fill="#9e74fb" shape-rendering="crispEdges"/>
<rect x="193.24" y="586.44" width="21.49" height="9.86" fill="#eeeeee" shape-rendering="crispEdges"/>
<rect x="214.68" y="586.44" width="21.49" height="9.86" fill="#b591f9" shape-rendering="crispEdges"/>
<rect x="236.12" y="586.44" width="21.49" height="9.86" fill="#e7e0f0" shape-rendering="crispEdges"/>
<rect x="257.56" y="586.44" width="21.49" height="9.86" fill="#4e2afe" shape-rendering="crispEdges"/>
<rect x="289.50" y="586.44" width="27.00" height="9.86" fill="#fed500" shape-rendering="crispEdges"/>
<rect x="326.80" y="586.44" width="27.40" height="9.86" fill="#6b41fd" shape-rendering="crispEdges"/>
<rect x="171.80" y="596.25" width="21.49" height="9.86" fill="#c3a5f7" shape-rendering="crispEdges"/>
<rect x="193.24" y="596.25" width="21.49" height="9.86" fill="#ffc4b4" shape-rendering="crispEdges"/>
<rect x="214.68" y="596.25" width="21.49" height="9.86" fill="#956afb" shape-rendering="crispEdges"/>
<rect x="236.12" y="596.25" width="21.49" height="9.86" fill="#e7e0f0" shape-rendering="crispEdges"/>
<rect x="257.56" y="596.25" width="21.49" height="9.86" fill="#0000ff" shape-rendering="crispEdges"/>
<rect x="289.50" y="596.25" width="27.00" height="9.86" fill="#f3cb00" shape-rendering="crispEdges"/>
<rect x="326.80" y="596.25" width="27.40" height="9.86" fill="#5e36fe" shape-rendering="crispEdges"/>
<rect x="171.80" y="606.06" width="21.49" height="9.86" fill="#cdb4f5" shape-rendering="crispEdges"/>
<rect x="193.24" y="606.06" width="21.49" height="9.86" fill="#f1e9e7" shape-rendering="crispEdges"/>
<rect x="214.68" y="606.06" width="21.49" height="9.86" fill="#c3a5f7" shape-rendering="crispEdges"/>
<rect x="236.12" y="606.06" width="21.49" height="9.86" fill="#dbccf3" shape-rendering="crispEdges"/>
<rect x="257.56" y="606.06" width="21.49" height="9.86" fill="#0000ff" shape-rendering="crispEdges"/>
<rect x="289.50" y="606.06" width="27.00" height="9.86" fill="#fed500" shape-rendering="crispEdges"/>
<rect x="326.80" y="606.06" width="27.40" height="9.86" fill="#5e36fe" shape-rendering="crispEdges"/>
<rect x="171.80" y="615.87" width="21.49" height="9.86" fill="#c3a5f7" shape-rendering="crispEdges"/>
<rect x="193.24" y="615.87" width="21.49" height="9.86" fill="#efecec" shape-rendering="crispEdges"/>
<rect x="214.68" y="615.87" width="21.49" height="9.86" fill="#c3a5f7" shape-rendering="crispEdges"/>
<rect x="236.12" y="615.87" width="21.49" height="9.86" fill="#d8c6f3" shape-rendering="crispEdges"/>
<rect x="257.56" y="615.87" width="21.49" height="9.86" fill="#0000ff" shape-rendering="crispEdges"/>
<rect x="289.50" y="615.87" width="27.00" height="9.86" fill="#fed500" shape-rendering="crispEdges"/>
<rect x="326.80" y="615.87" width="27.40" height="9.86" fill="#6b41fd" shape-rendering="crispEdges"/>
<rect x="171.80" y="625.68" width="21.49" height="9.86" fill="#a67efa" shape-rendering="crispEdges"/>
<rect x="193.24" y="625.68" width="21.49" height="9.86" fill="#eeeeee" shape-rendering="crispEdges"/>
<rect x="214.68" y="625.68" width="21.49" height="9.86" fill="#dbccf3" shape-rendering="crispEdges"/>
<rect x="236.12" y="625.68" width="21.49" height="9.86" fill="#bc9bf8" shape-rendering="crispEdges"/>
<rect x="257.56" y="625.68" width="21.49" height="9.86" fill="#8256fd" shape-rendering="crispEdges"/>
<rect x="289.50" y="625.68" width="27.00" height="9.86" fill="#fed500" shape-rendering="crispEdges"/>
<rect x="326.80" y="625.68" width="27.40" height="9.86" fill="#8256fd" shape-rendering="crispEdges"/>
<rect x="171.80" y="635.49" width="21.49" height="9.86" fill="#b591f9" shape-rendering="crispEdges"/>
<rect x="193.24" y="635.49" width="21.49" height="9.86" fill="#eceaef" shape-rendering="crispEdges"/>
<rect x="214.68" y="635.49" width="21.49" height="9.86" fill="#c9aef6" shape-rendering="crispEdges"/>
<rect x="236.12" y="635.49" width="21.49" height="9.86" fill="#b591f9" shape-rendering="crispEdges"/>
<rect x="257.56" y="635.49" width="21.49" height="9.86" fill="#8c60fc" shape-rendering="crispEdges"/>
<rect x="289.50" y="635.49" width="27.00" height="9.86" fill="#fed500" shape-rendering="crispEdges"/>
<rect x="326.80" y="635.49" width="27.40" height="9.86" fill="#774cfd" shape-rendering="crispEdges"/>
<rect x="171.80" y="645.30" width="21.49" height="9.86" fill="#ccb2f5" shape-rendering="crispEdges"/>
<rect x="193.24" y="645.30" width="21.49" height="9.86" fill="#efecec" shape-rendering="crispEdges"/>
<rect x="214.68" y="645.30" width="21.49" height="9.86" fill="#cdb4f5" shape-rendering="crispEdges"/>
<rect x="236.12" y="645.30" width="21.49" height="9.86" fill="#956afb" shape-rendering="crispEdges"/>
<rect x="257.56" y="645.30" width="21.49" height="9.86" fill="#0000ff" shape-rendering="crispEdges"/>
<rect x="289.50" y="645.30" width="27.00" height="9.86" fill="#fed500" shape-rendering="crispEdges"/>
<rect x="326.80" y="645.30" width="27.40" height="9.86" fill="#4e2afe" shape-rendering="crispEdges"/>
<rect x="171.80" y="655.11" width="21.49" height="9.86" fill="#ad87f9" shape-rendering="crispEdges"/>
<rect x="193.24" y="655.11" width="21.49" height="9.86" fill="#efecec" shape-rendering="crispEdges"/>
<rect x="214.68" y="655.11" width="21.49" height="9.86" fill="#a67efa" shape-rendering="crispEdges"/>
<rect x="236.12" y="655.11" width="21.49" height="9.86" fill="#cdb4f5" shape-rendering="crispEdges"/>
<rect x="257.56" y="655.11" width="21.49" height="9.86" fill="#8256fd" shape-rendering="crispEdges"/>
<rect x="289.50" y="655.11" width="27.00" height="9.86" fill="#fed500" shape-rendering="crispEdges"/>
<rect x="326.80" y="655.11" width="27.40" height="9.86" fill="#6b41fd" shape-rendering="crispEdges"/>
<rect x="171.80" y="664.92" width="21.49" height="9.86" fill="#9e74fb" shape-rendering="crispEdges"/>
<rect x="193.24" y="664.92" width="21.49" height="9.86" fill="#f4e4df" shape-rendering="crispEdges"/>
<rect x="214.68" y="664.92" width="21.49" height="9.86" fill="#aa83fa" shape-rendering="crispEdges"/>
<rect x="236.12" y="664.92" width="21.49" height="9.86" fill="#c5a9f6" shape-rendering="crispEdges"/>
<rect x="257.56" y="664.92" width="21.49" height="9.86" fill="#7c50fd" shape-rendering="crispEdges"/>
<rect x="289.50" y="664.92" width="27.00" height="9.86" fill="#fed500" shape-rendering="crispEdges"/>
<rect x="326.80" y="664.92" width="27.40" height="9.86" fill="#5e36fe" shape-rendering="crispEdges"/>
<rect x="171.80" y="674.73" width="21.49" height="9.86" fill="#9e74fb" shape-rendering="crispEdges"/>
<rect x="193.24" y="674.73" width="21.49" height="9.86" fill="#efecec" shape-rendering="crispEdges"/>
<rect x="214.68" y="674.73" width="21.49" height="9.86" fill="#9e74fb" shape-rendering="crispEdges"/>
<rect x="236.12" y="674.73" width="21.49" height="9.86" fill="#c5a9f6" shape-rendering="crispEdges"/>
<rect x="257.56" y="674.73" width="21.49" height="9.86" fill="#7c50fd" shape-rendering="crispEdges"/>
<rect x="289.50" y="674.73" width="27.00" height="9.86" fill="#fed500" shape-rendering="crispEdges"/>
<rect x="326.80" y="674.73" width="27.40" height="9.86" fill="#5e36fe" shape-rendering="crispEdges"/>
<rect x="171.80" y="684.54" width="21.49" height="9.86" fill="#9e74fb" shape-rendering="crispEdges"/>
<rect x="193.24" y="684.54" width="21.49" height="9.86" fill="#efecec" shape-rendering="crispEdges"/>
<rect x="214.68" y="684.54" width="21.49" height="9.86" fill="#9e74fb" shape-rendering="crispEdges"/>
<rect x="236.12" y="684.54" width="21.49" height="9.86" fill="#c5a9f6" shape-rendering="crispEdges"/>
<rect x="257.56" y="684.54" width="21.49" height="9.86" fill="#7347fd" shape-rendering="crispEdges"/>
<rect x="289.50" y="684.54" width="27.00" height="9.86" fill="#fed500" shape-rendering="crispEdges"/>
<rect x="326.80" y="684.54" width="27.40" height="9.86" fill="#5e36fe" shape-rendering="crispEdges"/>
<rect x="171.80" y="694.35" width="21.49" height="9.86" fill="#956afb" shape-rendering="crispEdges"/>
<rect x="193.24" y="694.35" width="21.49" height="9.86" fill="#efecec" shape-rendering="crispEdges"/>
<rect x="214.68" y="694.35" width="21.49" height="9.86" fill="#9e74fb" shape-rendering="crispEdges"/>
<rect x="236.12" y="694.35" width="21.49" height="9.86" fill="#c5a9f6" shape-rendering="crispEdges"/>
<rect x="257.56" y="694.35" width="21.49" height="9.86" fill="#0000ff" shape-rendering="crispEdges"/>
<rect x="289.50" y="694.35" width="27.00" height="9.86" fill="#fed500" shape-rendering="crispEdges"/>
<rect x="326.80" y="694.35" width="27.40" height="9.86" fill="#0000ff" shape-rendering="crispEdges"/>
<rect x="171.80" y="252.90" width="107.20" height="451.26" fill="none" stroke="#000" stroke-width="1.15"/>
<rect x="289.50" y="252.90" width="27.00" height="451.26" fill="none" stroke="#000" stroke-width="1.15"/>
<rect x="326.80" y="252.90" width="27.40" height="451.26" fill="none" stroke="#000" stroke-width="1.15"/>
<rect x="171.80" y="709.80" width="21.49" height="9.86" fill="#dbccf3" shape-rendering="crispEdges"/>
<rect x="193.24" y="709.80" width="21.49" height="9.86" fill="#ffcbbd" shape-rendering="crispEdges"/>
<rect x="214.68" y="709.80" width="21.49" height="9.86" fill="#f8dbd3" shape-rendering="crispEdges"/>
<rect x="236.12" y="709.80" width="21.49" height="9.86" fill="#eeeeee" shape-rendering="crispEdges"/>
<rect x="257.56" y="709.80" width="21.49" height="9.86" fill="#b591f9" shape-rendering="crispEdges"/>
<rect x="289.50" y="709.80" width="27.00" height="9.86" fill="#e6c104" shape-rendering="crispEdges"/>
<rect x="326.80" y="709.80" width="27.40" height="9.86" fill="#b591f9" shape-rendering="crispEdges"/>
<rect x="171.80" y="719.61" width="21.49" height="9.86" fill="#dfd2f2" shape-rendering="crispEdges"/>
<rect x="193.24" y="719.61" width="21.49" height="9.86" fill="#ffcbbd" shape-rendering="crispEdges"/>
<rect x="214.68" y="719.61" width="21.49" height="9.86" fill="#f1e9e7" shape-rendering="crispEdges"/>
<rect x="236.12" y="719.61" width="21.49" height="9.86" fill="#eeeeee" shape-rendering="crispEdges"/>
<rect x="257.56" y="719.61" width="21.49" height="9.86" fill="#b591f9" shape-rendering="crispEdges"/>
<rect x="289.50" y="719.61" width="27.00" height="9.86" fill="#fed500" shape-rendering="crispEdges"/>
<rect x="326.80" y="719.61" width="27.40" height="9.86" fill="#bc9bf8" shape-rendering="crispEdges"/>
<rect x="171.80" y="729.42" width="21.49" height="9.86" fill="#f2e7e4" shape-rendering="crispEdges"/>
<rect x="193.24" y="729.42" width="21.49" height="9.86" fill="#ffcbbd" shape-rendering="crispEdges"/>
<rect x="214.68" y="729.42" width="21.49" height="9.86" fill="#e4dcf1" shape-rendering="crispEdges"/>
<rect x="236.12" y="729.42" width="21.49" height="9.86" fill="#ffc6b6" shape-rendering="crispEdges"/>
<rect x="257.56" y="729.42" width="21.49" height="9.86" fill="#aa83fa" shape-rendering="crispEdges"/>
<rect x="289.50" y="729.42" width="27.00" height="9.86" fill="#fed500" shape-rendering="crispEdges"/>
<rect x="326.80" y="729.42" width="27.40" height="9.86" fill="#c3a5f7" shape-rendering="crispEdges"/>
<rect x="171.80" y="739.23" width="21.49" height="9.86" fill="#f2e7e4" shape-rendering="crispEdges"/>
<rect x="193.24" y="739.23" width="21.49" height="9.86" fill="#fad7ce" shape-rendering="crispEdges"/>
<rect x="214.68" y="739.23" width="21.49" height="9.86" fill="#eeeeee" shape-rendering="crispEdges"/>
<rect x="236.12" y="739.23" width="21.49" height="9.86" fill="#f8ddd5" shape-rendering="crispEdges"/>
<rect x="257.56" y="739.23" width="21.49" height="9.86" fill="#ad87f9" shape-rendering="crispEdges"/>
<rect x="289.50" y="739.23" width="27.00" height="9.86" fill="#fed500" shape-rendering="crispEdges"/>
<rect x="326.80" y="739.23" width="27.40" height="9.86" fill="#c3a5f7" shape-rendering="crispEdges"/>
<rect x="171.80" y="749.04" width="21.49" height="9.86" fill="#f2e7e4" shape-rendering="crispEdges"/>
<rect x="193.24" y="749.04" width="21.49" height="9.86" fill="#fad7ce" shape-rendering="crispEdges"/>
<rect x="214.68" y="749.04" width="21.49" height="9.86" fill="#e7e0f0" shape-rendering="crispEdges"/>
<rect x="236.12" y="749.04" width="21.49" height="9.86" fill="#fbd5cc" shape-rendering="crispEdges"/>
<rect x="257.56" y="749.04" width="21.49" height="9.86" fill="#ad87f9" shape-rendering="crispEdges"/>
<rect x="289.50" y="749.04" width="27.00" height="9.86" fill="#fed500" shape-rendering="crispEdges"/>
<rect x="326.80" y="749.04" width="27.40" height="9.86" fill="#c3a5f7" shape-rendering="crispEdges"/>
<rect x="171.80" y="758.85" width="21.49" height="9.86" fill="#e3daf1" shape-rendering="crispEdges"/>
<rect x="193.24" y="758.85" width="21.49" height="9.86" fill="#fad7ce" shape-rendering="crispEdges"/>
<rect x="214.68" y="758.85" width="21.49" height="9.86" fill="#e7e0f0" shape-rendering="crispEdges"/>
<rect x="236.12" y="758.85" width="21.49" height="9.86" fill="#dfd2f2" shape-rendering="crispEdges"/>
<rect x="257.56" y="758.85" width="21.49" height="9.86" fill="#b997f8" shape-rendering="crispEdges"/>
<rect x="289.50" y="758.85" width="27.00" height="9.86" fill="#fed500" shape-rendering="crispEdges"/>
<rect x="326.80" y="758.85" width="27.40" height="9.86" fill="#b591f9" shape-rendering="crispEdges"/>
<rect x="171.80" y="768.66" width="21.49" height="9.86" fill="#e3daf1" shape-rendering="crispEdges"/>
<rect x="193.24" y="768.66" width="21.49" height="9.86" fill="#f6e0da" shape-rendering="crispEdges"/>
<rect x="214.68" y="768.66" width="21.49" height="9.86" fill="#dfd2f2" shape-rendering="crispEdges"/>
<rect x="236.12" y="768.66" width="21.49" height="9.86" fill="#e5def0" shape-rendering="crispEdges"/>
<rect x="257.56" y="768.66" width="21.49" height="9.86" fill="#b997f8" shape-rendering="crispEdges"/>
<rect x="289.50" y="768.66" width="27.00" height="9.86" fill="#fed500" shape-rendering="crispEdges"/>
<rect x="326.80" y="768.66" width="27.40" height="9.86" fill="#b591f9" shape-rendering="crispEdges"/>
<rect x="171.80" y="778.47" width="21.49" height="9.86" fill="#eceaef" shape-rendering="crispEdges"/>
<rect x="193.24" y="778.47" width="21.49" height="9.86" fill="#f9d9d1" shape-rendering="crispEdges"/>
<rect x="214.68" y="778.47" width="21.49" height="9.86" fill="#eeeeee" shape-rendering="crispEdges"/>
<rect x="236.12" y="778.47" width="21.49" height="9.86" fill="#e5def0" shape-rendering="crispEdges"/>
<rect x="257.56" y="778.47" width="21.49" height="9.86" fill="#aa83fa" shape-rendering="crispEdges"/>
<rect x="289.50" y="778.47" width="27.00" height="9.86" fill="#fed500" shape-rendering="crispEdges"/>
<rect x="326.80" y="778.47" width="27.40" height="9.86" fill="#bc9bf8" shape-rendering="crispEdges"/>
<rect x="171.80" y="788.28" width="21.49" height="9.86" fill="#e7e0f0" shape-rendering="crispEdges"/>
<rect x="193.24" y="788.28" width="21.49" height="9.86" fill="#fad7ce" shape-rendering="crispEdges"/>
<rect x="214.68" y="788.28" width="21.49" height="9.86" fill="#eceaef" shape-rendering="crispEdges"/>
<rect x="236.12" y="788.28" width="21.49" height="9.86" fill="#e1d6f1" shape-rendering="crispEdges"/>
<rect x="257.56" y="788.28" width="21.49" height="9.86" fill="#ad87f9" shape-rendering="crispEdges"/>
<rect x="289.50" y="788.28" width="27.00" height="9.86" fill="#fed500" shape-rendering="crispEdges"/>
<rect x="326.80" y="788.28" width="27.40" height="9.86" fill="#bc9bf8" shape-rendering="crispEdges"/>
<rect x="171.80" y="798.09" width="21.49" height="9.86" fill="#e7e0f0" shape-rendering="crispEdges"/>
<rect x="193.24" y="798.09" width="21.49" height="9.86" fill="#f8dbd3" shape-rendering="crispEdges"/>
<rect x="214.68" y="798.09" width="21.49" height="9.86" fill="#dfd2f2" shape-rendering="crispEdges"/>
<rect x="236.12" y="798.09" width="21.49" height="9.86" fill="#e1d6f1" shape-rendering="crispEdges"/>
<rect x="257.56" y="798.09" width="21.49" height="9.86" fill="#9064fc" shape-rendering="crispEdges"/>
<rect x="289.50" y="798.09" width="27.00" height="9.86" fill="#fed500" shape-rendering="crispEdges"/>
<rect x="326.80" y="798.09" width="27.40" height="9.86" fill="#b591f9" shape-rendering="crispEdges"/>
<rect x="171.80" y="807.90" width="21.49" height="9.86" fill="#e3daf1" shape-rendering="crispEdges"/>
<rect x="193.24" y="807.90" width="21.49" height="9.86" fill="#ffb9a6" shape-rendering="crispEdges"/>
<rect x="214.68" y="807.90" width="21.49" height="9.86" fill="#eceaef" shape-rendering="crispEdges"/>
<rect x="236.12" y="807.90" width="21.49" height="9.86" fill="#efecec" shape-rendering="crispEdges"/>
<rect x="257.56" y="807.90" width="21.49" height="9.86" fill="#9e74fb" shape-rendering="crispEdges"/>
<rect x="289.50" y="807.90" width="27.00" height="9.86" fill="#d6b10e" shape-rendering="crispEdges"/>
<rect x="326.80" y="807.90" width="27.40" height="9.86" fill="#c3a5f7" shape-rendering="crispEdges"/>
<rect x="171.80" y="817.71" width="21.49" height="9.86" fill="#eceaef" shape-rendering="crispEdges"/>
<rect x="193.24" y="817.71" width="21.49" height="9.86" fill="#ffcbbd" shape-rendering="crispEdges"/>
<rect x="214.68" y="817.71" width="21.49" height="9.86" fill="#e7e0f0" shape-rendering="crispEdges"/>
<rect x="236.12" y="817.71" width="21.49" height="9.86" fill="#eeeeee" shape-rendering="crispEdges"/>
<rect x="257.56" y="817.71" width="21.49" height="9.86" fill="#8c60fc" shape-rendering="crispEdges"/>
<rect x="289.50" y="817.71" width="27.00" height="9.86" fill="#fed500" shape-rendering="crispEdges"/>
<rect x="326.80" y="817.71" width="27.40" height="9.86" fill="#bc9bf8" shape-rendering="crispEdges"/>
<rect x="171.80" y="827.52" width="21.49" height="9.86" fill="#dfd2f2" shape-rendering="crispEdges"/>
<rect x="193.24" y="827.52" width="21.49" height="9.86" fill="#ffcbbd" shape-rendering="crispEdges"/>
<rect x="214.68" y="827.52" width="21.49" height="9.86" fill="#eceaef" shape-rendering="crispEdges"/>
<rect x="236.12" y="827.52" width="21.49" height="9.86" fill="#f6e0da" shape-rendering="crispEdges"/>
<rect x="257.56" y="827.52" width="21.49" height="9.86" fill="#956afb" shape-rendering="crispEdges"/>
<rect x="289.50" y="827.52" width="27.00" height="9.86" fill="#fed500" shape-rendering="crispEdges"/>
<rect x="326.80" y="827.52" width="27.40" height="9.86" fill="#b997f8" shape-rendering="crispEdges"/>
<rect x="171.80" y="837.33" width="21.49" height="9.86" fill="#dfd2f2" shape-rendering="crispEdges"/>
<rect x="193.24" y="837.33" width="21.49" height="9.86" fill="#fdcec2" shape-rendering="crispEdges"/>
<rect x="214.68" y="837.33" width="21.49" height="9.86" fill="#eceaef" shape-rendering="crispEdges"/>
<rect x="236.12" y="837.33" width="21.49" height="9.86" fill="#eeeeee" shape-rendering="crispEdges"/>
<rect x="257.56" y="837.33" width="21.49" height="9.86" fill="#9064fc" shape-rendering="crispEdges"/>
<rect x="289.50" y="837.33" width="27.00" height="9.86" fill="#fed500" shape-rendering="crispEdges"/>
<rect x="326.80" y="837.33" width="27.40" height="9.86" fill="#b997f8" shape-rendering="crispEdges"/>
<rect x="171.80" y="847.14" width="21.49" height="9.86" fill="#dfd2f2" shape-rendering="crispEdges"/>
<rect x="193.24" y="847.14" width="21.49" height="9.86" fill="#f6e0da" shape-rendering="crispEdges"/>
<rect x="214.68" y="847.14" width="21.49" height="9.86" fill="#eae6ef" shape-rendering="crispEdges"/>
<rect x="236.12" y="847.14" width="21.49" height="9.86" fill="#f8dbd3" shape-rendering="crispEdges"/>
<rect x="257.56" y="847.14" width="21.49" height="9.86" fill="#ad87f9" shape-rendering="crispEdges"/>
<rect x="289.50" y="847.14" width="27.00" height="9.86" fill="#fed500" shape-rendering="crispEdges"/>
<rect x="326.80" y="847.14" width="27.40" height="9.86" fill="#b997f8" shape-rendering="crispEdges"/>
<rect x="171.80" y="856.95" width="21.49" height="9.86" fill="#dbccf3" shape-rendering="crispEdges"/>
<rect x="193.24" y="856.95" width="21.49" height="9.86" fill="#f8ddd5" shape-rendering="crispEdges"/>
<rect x="214.68" y="856.95" width="21.49" height="9.86" fill="#dbccf3" shape-rendering="crispEdges"/>
<rect x="236.12" y="856.95" width="21.49" height="9.86" fill="#e8e2f0" shape-rendering="crispEdges"/>
<rect x="257.56" y="856.95" width="21.49" height="9.86" fill="#885cfc" shape-rendering="crispEdges"/>
<rect x="289.50" y="856.95" width="27.00" height="9.86" fill="#fed500" shape-rendering="crispEdges"/>
<rect x="326.80" y="856.95" width="27.40" height="9.86" fill="#ad87f9" shape-rendering="crispEdges"/>
<rect x="171.80" y="866.76" width="21.49" height="9.86" fill="#e7e0f0" shape-rendering="crispEdges"/>
<rect x="193.24" y="866.76" width="21.49" height="9.86" fill="#f8ddd5" shape-rendering="crispEdges"/>
<rect x="214.68" y="866.76" width="21.49" height="9.86" fill="#e3daf1" shape-rendering="crispEdges"/>
<rect x="236.12" y="866.76" width="21.49" height="9.86" fill="#ffc6b6" shape-rendering="crispEdges"/>
<rect x="257.56" y="866.76" width="21.49" height="9.86" fill="#7347fd" shape-rendering="crispEdges"/>
<rect x="289.50" y="866.76" width="27.00" height="9.86" fill="#fed500" shape-rendering="crispEdges"/>
<rect x="326.80" y="866.76" width="27.40" height="9.86" fill="#b591f9" shape-rendering="crispEdges"/>
<rect x="171.80" y="876.57" width="21.49" height="9.86" fill="#e8e2f0" shape-rendering="crispEdges"/>
<rect x="193.24" y="876.57" width="21.49" height="9.86" fill="#f8ddd5" shape-rendering="crispEdges"/>
<rect x="214.68" y="876.57" width="21.49" height="9.86" fill="#f8ddd5" shape-rendering="crispEdges"/>
<rect x="236.12" y="876.57" width="21.49" height="9.86" fill="#eae6ef" shape-rendering="crispEdges"/>
<rect x="257.56" y="876.57" width="21.49" height="9.86" fill="#663dfe" shape-rendering="crispEdges"/>
<rect x="289.50" y="876.57" width="27.00" height="9.86" fill="#fed500" shape-rendering="crispEdges"/>
<rect x="326.80" y="876.57" width="27.40" height="9.86" fill="#ad87f9" shape-rendering="crispEdges"/>
<rect x="171.80" y="886.38" width="21.49" height="9.86" fill="#ccb2f5" shape-rendering="crispEdges"/>
<rect x="193.24" y="886.38" width="21.49" height="9.86" fill="#ffcbbd" shape-rendering="crispEdges"/>
<rect x="214.68" y="886.38" width="21.49" height="9.86" fill="#e7e0f0" shape-rendering="crispEdges"/>
<rect x="236.12" y="886.38" width="21.49" height="9.86" fill="#dfd2f2" shape-rendering="crispEdges"/>
<rect x="257.56" y="886.38" width="21.49" height="9.86" fill="#fcd2c7" shape-rendering="crispEdges"/>
<rect x="289.50" y="886.38" width="27.00" height="9.86" fill="#d4af10" shape-rendering="crispEdges"/>
<rect x="326.80" y="886.38" width="27.40" height="9.86" fill="#c3a5f7" shape-rendering="crispEdges"/>
<rect x="171.80" y="896.19" width="21.49" height="9.86" fill="#e1d6f1" shape-rendering="crispEdges"/>
<rect x="193.24" y="896.19" width="21.49" height="9.86" fill="#f6e0da" shape-rendering="crispEdges"/>
<rect x="214.68" y="896.19" width="21.49" height="9.86" fill="#dbccf3" shape-rendering="crispEdges"/>
<rect x="236.12" y="896.19" width="21.49" height="9.86" fill="#eae6ef" shape-rendering="crispEdges"/>
<rect x="257.56" y="896.19" width="21.49" height="9.86" fill="#f6e0da" shape-rendering="crispEdges"/>
<rect x="289.50" y="896.19" width="27.00" height="9.86" fill="#fed500" shape-rendering="crispEdges"/>
<rect x="326.80" y="896.19" width="27.40" height="9.86" fill="#c3a5f7" shape-rendering="crispEdges"/>
<rect x="171.80" y="906.00" width="21.49" height="9.86" fill="#e1d6f1" shape-rendering="crispEdges"/>
<rect x="193.24" y="906.00" width="21.49" height="9.86" fill="#f6e0da" shape-rendering="crispEdges"/>
<rect x="214.68" y="906.00" width="21.49" height="9.86" fill="#e3daf1" shape-rendering="crispEdges"/>
<rect x="236.12" y="906.00" width="21.49" height="9.86" fill="#e7e0f0" shape-rendering="crispEdges"/>
<rect x="257.56" y="906.00" width="21.49" height="9.86" fill="#eeeeee" shape-rendering="crispEdges"/>
<rect x="289.50" y="906.00" width="27.00" height="9.86" fill="#fed500" shape-rendering="crispEdges"/>
<rect x="326.80" y="906.00" width="27.40" height="9.86" fill="#c3a5f7" shape-rendering="crispEdges"/>
<rect x="171.80" y="915.81" width="21.49" height="9.86" fill="#ceb6f5" shape-rendering="crispEdges"/>
<rect x="193.24" y="915.81" width="21.49" height="9.86" fill="#ffcbbd" shape-rendering="crispEdges"/>
<rect x="214.68" y="915.81" width="21.49" height="9.86" fill="#ccb2f5" shape-rendering="crispEdges"/>
<rect x="236.12" y="915.81" width="21.49" height="9.86" fill="#eae6ef" shape-rendering="crispEdges"/>
<rect x="257.56" y="915.81" width="21.49" height="9.86" fill="#e3daf1" shape-rendering="crispEdges"/>
<rect x="289.50" y="915.81" width="27.00" height="9.86" fill="#fed500" shape-rendering="crispEdges"/>
<rect x="326.80" y="915.81" width="27.40" height="9.86" fill="#bc9bf8" shape-rendering="crispEdges"/>
<rect x="171.80" y="925.62" width="21.49" height="9.86" fill="#ceb6f5" shape-rendering="crispEdges"/>
<rect x="193.24" y="925.62" width="21.49" height="9.86" fill="#f6e0da" shape-rendering="crispEdges"/>
<rect x="214.68" y="925.62" width="21.49" height="9.86" fill="#d8c6f3" shape-rendering="crispEdges"/>
<rect x="236.12" y="925.62" width="21.49" height="9.86" fill="#eceaef" shape-rendering="crispEdges"/>
<rect x="257.56" y="925.62" width="21.49" height="9.86" fill="#e3daf1" shape-rendering="crispEdges"/>
<rect x="289.50" y="925.62" width="27.00" height="9.86" fill="#fed500" shape-rendering="crispEdges"/>
<rect x="326.80" y="925.62" width="27.40" height="9.86" fill="#bc9bf8" shape-rendering="crispEdges"/>
<rect x="171.80" y="935.43" width="21.49" height="9.86" fill="#ceb6f5" shape-rendering="crispEdges"/>
<rect x="193.24" y="935.43" width="21.49" height="9.86" fill="#e7e0f0" shape-rendering="crispEdges"/>
<rect x="214.68" y="935.43" width="21.49" height="9.86" fill="#f8ddd5" shape-rendering="crispEdges"/>
<rect x="236.12" y="935.43" width="21.49" height="9.86" fill="#b997f8" shape-rendering="crispEdges"/>
<rect x="257.56" y="935.43" width="21.49" height="9.86" fill="#dbccf3" shape-rendering="crispEdges"/>
<rect x="289.50" y="935.43" width="27.00" height="9.86" fill="#fed500" shape-rendering="crispEdges"/>
<rect x="326.80" y="935.43" width="27.40" height="9.86" fill="#9e74fb" shape-rendering="crispEdges"/>
<rect x="171.80" y="945.24" width="21.49" height="9.86" fill="#e3daf1" shape-rendering="crispEdges"/>
<rect x="193.24" y="945.24" width="21.49" height="9.86" fill="#f9d9d1" shape-rendering="crispEdges"/>
<rect x="214.68" y="945.24" width="21.49" height="9.86" fill="#f9d9d1" shape-rendering="crispEdges"/>
<rect x="236.12" y="945.24" width="21.49" height="9.86" fill="#f1e9e7" shape-rendering="crispEdges"/>
<rect x="257.56" y="945.24" width="21.49" height="9.86" fill="#c3a5f7" shape-rendering="crispEdges"/>
<rect x="289.50" y="945.24" width="27.00" height="9.86" fill="#fed500" shape-rendering="crispEdges"/>
<rect x="326.80" y="945.24" width="27.40" height="9.86" fill="#cfb8f5" shape-rendering="crispEdges"/>
<rect x="171.80" y="955.05" width="21.49" height="9.86" fill="#e3daf1" shape-rendering="crispEdges"/>
<rect x="193.24" y="955.05" width="21.49" height="9.86" fill="#f6e0da" shape-rendering="crispEdges"/>
<rect x="214.68" y="955.05" width="21.49" height="9.86" fill="#efecec" shape-rendering="crispEdges"/>
<rect x="236.12" y="955.05" width="21.49" height="9.86" fill="#f8ddd5" shape-rendering="crispEdges"/>
<rect x="257.56" y="955.05" width="21.49" height="9.86" fill="#c9aef6" shape-rendering="crispEdges"/>
<rect x="289.50" y="955.05" width="27.00" height="9.86" fill="#fed500" shape-rendering="crispEdges"/>
<rect x="326.80" y="955.05" width="27.40" height="9.86" fill="#c9aef6" shape-rendering="crispEdges"/>
<rect x="171.80" y="964.86" width="21.49" height="9.86" fill="#d8c6f3" shape-rendering="crispEdges"/>
<rect x="193.24" y="964.86" width="21.49" height="9.86" fill="#ffcbbd" shape-rendering="crispEdges"/>
<rect x="214.68" y="964.86" width="21.49" height="9.86" fill="#eae6ef" shape-rendering="crispEdges"/>
<rect x="236.12" y="964.86" width="21.49" height="9.86" fill="#f6e0da" shape-rendering="crispEdges"/>
<rect x="257.56" y="964.86" width="21.49" height="9.86" fill="#bc9bf8" shape-rendering="crispEdges"/>
<rect x="289.50" y="964.86" width="27.00" height="9.86" fill="#fed500" shape-rendering="crispEdges"/>
<rect x="326.80" y="964.86" width="27.40" height="9.86" fill="#c7abf6" shape-rendering="crispEdges"/>
<rect x="171.80" y="974.67" width="21.49" height="9.86" fill="#eae6ef" shape-rendering="crispEdges"/>
<rect x="193.24" y="974.67" width="21.49" height="9.86" fill="#ffbdaa" shape-rendering="crispEdges"/>
<rect x="214.68" y="974.67" width="21.49" height="9.86" fill="#e7e0f0" shape-rendering="crispEdges"/>
<rect x="236.12" y="974.67" width="21.49" height="9.86" fill="#e1d6f1" shape-rendering="crispEdges"/>
<rect x="257.56" y="974.67" width="21.49" height="9.86" fill="#d2bcf4" shape-rendering="crispEdges"/>
<rect x="289.50" y="974.67" width="27.00" height="9.86" fill="#fed500" shape-rendering="crispEdges"/>
<rect x="326.80" y="974.67" width="27.40" height="9.86" fill="#ccb2f5" shape-rendering="crispEdges"/>
<rect x="171.80" y="984.48" width="21.49" height="9.86" fill="#e3daf1" shape-rendering="crispEdges"/>
<rect x="193.24" y="984.48" width="21.49" height="9.86" fill="#ffc6b6" shape-rendering="crispEdges"/>
<rect x="214.68" y="984.48" width="21.49" height="9.86" fill="#eeeeee" shape-rendering="crispEdges"/>
<rect x="236.12" y="984.48" width="21.49" height="9.86" fill="#e8e2f0" shape-rendering="crispEdges"/>
<rect x="257.56" y="984.48" width="21.49" height="9.86" fill="#c7abf6" shape-rendering="crispEdges"/>
<rect x="289.50" y="984.48" width="27.00" height="9.86" fill="#fed500" shape-rendering="crispEdges"/>
<rect x="326.80" y="984.48" width="27.40" height="9.86" fill="#c7abf6" shape-rendering="crispEdges"/>
<rect x="171.80" y="994.29" width="21.49" height="9.86" fill="#d9c8f3" shape-rendering="crispEdges"/>
<rect x="193.24" y="994.29" width="21.49" height="9.86" fill="#ffc6b6" shape-rendering="crispEdges"/>
<rect x="214.68" y="994.29" width="21.49" height="9.86" fill="#e7e0f0" shape-rendering="crispEdges"/>
<rect x="236.12" y="994.29" width="21.49" height="9.86" fill="#e3daf1" shape-rendering="crispEdges"/>
<rect x="257.56" y="994.29" width="21.49" height="9.86" fill="#c5a9f6" shape-rendering="crispEdges"/>
<rect x="289.50" y="994.29" width="27.00" height="9.86" fill="#fed500" shape-rendering="crispEdges"/>
<rect x="326.80" y="994.29" width="27.40" height="9.86" fill="#bc9bf8" shape-rendering="crispEdges"/>
<rect x="171.80" y="1004.10" width="21.49" height="9.86" fill="#eae6ef" shape-rendering="crispEdges"/>
<rect x="193.24" y="1004.10" width="21.49" height="9.86" fill="#ffcbbd" shape-rendering="crispEdges"/>
<rect x="214.68" y="1004.10" width="21.49" height="9.86" fill="#d6c2f4" shape-rendering="crispEdges"/>
<rect x="236.12" y="1004.10" width="21.49" height="9.86" fill="#f1e9e7" shape-rendering="crispEdges"/>
<rect x="257.56" y="1004.10" width="21.49" height="9.86" fill="#dbccf3" shape-rendering="crispEdges"/>
<rect x="289.50" y="1004.10" width="27.00" height="9.86" fill="#fed500" shape-rendering="crispEdges"/>
<rect x="326.80" y="1004.10" width="27.40" height="9.86" fill="#c3a5f7" shape-rendering="crispEdges"/>
<rect x="171.80" y="1013.91" width="21.49" height="9.86" fill="#e1d6f1" shape-rendering="crispEdges"/>
<rect x="193.24" y="1013.91" width="21.49" height="9.86" fill="#fdcec2" shape-rendering="crispEdges"/>
<rect x="214.68" y="1013.91" width="21.49" height="9.86" fill="#d8c6f3" shape-rendering="crispEdges"/>
<rect x="236.12" y="1013.91" width="21.49" height="9.86" fill="#eceaef" shape-rendering="crispEdges"/>
<rect x="257.56" y="1013.91" width="21.49" height="9.86" fill="#dbccf3" shape-rendering="crispEdges"/>
<rect x="289.50" y="1013.91" width="27.00" height="9.86" fill="#fed500" shape-rendering="crispEdges"/>
<rect x="326.80" y="1013.91" width="27.40" height="9.86" fill="#c3a5f7" shape-rendering="crispEdges"/>
<rect x="171.80" y="1023.72" width="21.49" height="9.86" fill="#dfd2f2" shape-rendering="crispEdges"/>
<rect x="193.24" y="1023.72" width="21.49" height="9.86" fill="#ffcbbd" shape-rendering="crispEdges"/>
<rect x="214.68" y="1023.72" width="21.49" height="9.86" fill="#cdb4f5" shape-rendering="crispEdges"/>
<rect x="236.12" y="1023.72" width="21.49" height="9.86" fill="#efecec" shape-rendering="crispEdges"/>
<rect x="257.56" y="1023.72" width="21.49" height="9.86" fill="#dbccf3" shape-rendering="crispEdges"/>
<rect x="289.50" y="1023.72" width="27.00" height="9.86" fill="#fed500" shape-rendering="crispEdges"/>
<rect x="326.80" y="1023.72" width="27.40" height="9.86" fill="#bc9bf8" shape-rendering="crispEdges"/>
<rect x="171.80" y="1033.53" width="21.49" height="9.86" fill="#dbccf3" shape-rendering="crispEdges"/>
<rect x="193.24" y="1033.53" width="21.49" height="9.86" fill="#f8ddd5" shape-rendering="crispEdges"/>
<rect x="214.68" y="1033.53" width="21.49" height="9.86" fill="#cdb4f5" shape-rendering="crispEdges"/>
<rect x="236.12" y="1033.53" width="21.49" height="9.86" fill="#eceaef" shape-rendering="crispEdges"/>
<rect x="257.56" y="1033.53" width="21.49" height="9.86" fill="#dbccf3" shape-rendering="crispEdges"/>
<rect x="289.50" y="1033.53" width="27.00" height="9.86" fill="#fed500" shape-rendering="crispEdges"/>
<rect x="326.80" y="1033.53" width="27.40" height="9.86" fill="#bc9bf8" shape-rendering="crispEdges"/>
<rect x="171.80" y="1043.34" width="21.49" height="9.86" fill="#eceaef" shape-rendering="crispEdges"/>
<rect x="193.24" y="1043.34" width="21.49" height="9.86" fill="#f1e9e7" shape-rendering="crispEdges"/>
<rect x="214.68" y="1043.34" width="21.49" height="9.86" fill="#dfd2f2" shape-rendering="crispEdges"/>
<rect x="236.12" y="1043.34" width="21.49" height="9.86" fill="#eceaef" shape-rendering="crispEdges"/>
<rect x="257.56" y="1043.34" width="21.49" height="9.86" fill="#d6c2f4" shape-rendering="crispEdges"/>
<rect x="289.50" y="1043.34" width="27.00" height="9.86" fill="#fed500" shape-rendering="crispEdges"/>
<rect x="326.80" y="1043.34" width="27.40" height="9.86" fill="#bf9ff7" shape-rendering="crispEdges"/>
<rect x="171.80" y="1053.15" width="21.49" height="9.86" fill="#e1d6f1" shape-rendering="crispEdges"/>
<rect x="193.24" y="1053.15" width="21.49" height="9.86" fill="#ffcbbd" shape-rendering="crispEdges"/>
<rect x="214.68" y="1053.15" width="21.49" height="9.86" fill="#c5a9f6" shape-rendering="crispEdges"/>
<rect x="236.12" y="1053.15" width="21.49" height="9.86" fill="#f6e0da" shape-rendering="crispEdges"/>
<rect x="257.56" y="1053.15" width="21.49" height="9.86" fill="#c1a3f7" shape-rendering="crispEdges"/>
<rect x="289.50" y="1053.15" width="27.00" height="9.86" fill="#fed500" shape-rendering="crispEdges"/>
<rect x="326.80" y="1053.15" width="27.40" height="9.86" fill="#bc9bf8" shape-rendering="crispEdges"/>
<rect x="171.80" y="1062.96" width="21.49" height="9.86" fill="#cfb8f5" shape-rendering="crispEdges"/>
<rect x="193.24" y="1062.96" width="21.49" height="9.86" fill="#f9d9d1" shape-rendering="crispEdges"/>
<rect x="214.68" y="1062.96" width="21.49" height="9.86" fill="#d9c8f3" shape-rendering="crispEdges"/>
<rect x="236.12" y="1062.96" width="21.49" height="9.86" fill="#eae6ef" shape-rendering="crispEdges"/>
<rect x="257.56" y="1062.96" width="21.49" height="9.86" fill="#d6c2f4" shape-rendering="crispEdges"/>
<rect x="289.50" y="1062.96" width="27.00" height="9.86" fill="#fed500" shape-rendering="crispEdges"/>
<rect x="326.80" y="1062.96" width="27.40" height="9.86" fill="#bc9bf8" shape-rendering="crispEdges"/>
<rect x="171.80" y="1072.77" width="21.49" height="9.86" fill="#cfb8f5" shape-rendering="crispEdges"/>
<rect x="193.24" y="1072.77" width="21.49" height="9.86" fill="#ffcbbd" shape-rendering="crispEdges"/>
<rect x="214.68" y="1072.77" width="21.49" height="9.86" fill="#cfb8f5" shape-rendering="crispEdges"/>
<rect x="236.12" y="1072.77" width="21.49" height="9.86" fill="#eceaef" shape-rendering="crispEdges"/>
<rect x="257.56" y="1072.77" width="21.49" height="9.86" fill="#d6c2f4" shape-rendering="crispEdges"/>
<rect x="289.50" y="1072.77" width="27.00" height="9.86" fill="#fed500" shape-rendering="crispEdges"/>
<rect x="326.80" y="1072.77" width="27.40" height="9.86" fill="#b591f9" shape-rendering="crispEdges"/>
<rect x="171.80" y="1082.58" width="21.49" height="9.86" fill="#d3bef4" shape-rendering="crispEdges"/>
<rect x="193.24" y="1082.58" width="21.49" height="9.86" fill="#f9d9d1" shape-rendering="crispEdges"/>
<rect x="214.68" y="1082.58" width="21.49" height="9.86" fill="#cfb8f5" shape-rendering="crispEdges"/>
<rect x="236.12" y="1082.58" width="21.49" height="9.86" fill="#eceaef" shape-rendering="crispEdges"/>
<rect x="257.56" y="1082.58" width="21.49" height="9.86" fill="#ccb2f5" shape-rendering="crispEdges"/>
<rect x="289.50" y="1082.58" width="27.00" height="9.86" fill="#fed500" shape-rendering="crispEdges"/>
<rect x="326.80" y="1082.58" width="27.40" height="9.86" fill="#b591f9" shape-rendering="crispEdges"/>
<rect x="171.80" y="1092.39" width="21.49" height="9.86" fill="#d3bef4" shape-rendering="crispEdges"/>
<rect x="193.24" y="1092.39" width="21.49" height="9.86" fill="#f1e9e7" shape-rendering="crispEdges"/>
<rect x="214.68" y="1092.39" width="21.49" height="9.86" fill="#cfb8f5" shape-rendering="crispEdges"/>
<rect x="236.12" y="1092.39" width="21.49" height="9.86" fill="#eceaef" shape-rendering="crispEdges"/>
<rect x="257.56" y="1092.39" width="21.49" height="9.86" fill="#ccb2f5" shape-rendering="crispEdges"/>
<rect x="289.50" y="1092.39" width="27.00" height="9.86" fill="#fed500" shape-rendering="crispEdges"/>
<rect x="326.80" y="1092.39" width="27.40" height="9.86" fill="#ad87f9" shape-rendering="crispEdges"/>
<rect x="171.80" y="1102.20" width="21.49" height="9.86" fill="#cdb4f5" shape-rendering="crispEdges"/>
<rect x="193.24" y="1102.20" width="21.49" height="9.86" fill="#f1e9e7" shape-rendering="crispEdges"/>
<rect x="214.68" y="1102.20" width="21.49" height="9.86" fill="#cfb8f5" shape-rendering="crispEdges"/>
<rect x="236.12" y="1102.20" width="21.49" height="9.86" fill="#e8e2f0" shape-rendering="crispEdges"/>
<rect x="257.56" y="1102.20" width="21.49" height="9.86" fill="#c7abf6" shape-rendering="crispEdges"/>
<rect x="289.50" y="1102.20" width="27.00" height="9.86" fill="#fed500" shape-rendering="crispEdges"/>
<rect x="326.80" y="1102.20" width="27.40" height="9.86" fill="#ad87f9" shape-rendering="crispEdges"/>
<rect x="171.80" y="1112.01" width="21.49" height="9.86" fill="#c5a9f6" shape-rendering="crispEdges"/>
<rect x="193.24" y="1112.01" width="21.49" height="9.86" fill="#fad7ce" shape-rendering="crispEdges"/>
<rect x="214.68" y="1112.01" width="21.49" height="9.86" fill="#cfb8f5" shape-rendering="crispEdges"/>
<rect x="236.12" y="1112.01" width="21.49" height="9.86" fill="#fdcec2" shape-rendering="crispEdges"/>
<rect x="257.56" y="1112.01" width="21.49" height="9.86" fill="#a67efa" shape-rendering="crispEdges"/>
<rect x="289.50" y="1112.01" width="27.00" height="9.86" fill="#88671a" shape-rendering="crispEdges"/>
<rect x="326.80" y="1112.01" width="27.40" height="9.86" fill="#ad87f9" shape-rendering="crispEdges"/>
<rect x="171.80" y="1121.82" width="21.49" height="9.86" fill="#d8c6f3" shape-rendering="crispEdges"/>
<rect x="193.24" y="1121.82" width="21.49" height="9.86" fill="#fad7ce" shape-rendering="crispEdges"/>
<rect x="214.68" y="1121.82" width="21.49" height="9.86" fill="#d9c8f3" shape-rendering="crispEdges"/>
<rect x="236.12" y="1121.82" width="21.49" height="9.86" fill="#d2bcf4" shape-rendering="crispEdges"/>
<rect x="257.56" y="1121.82" width="21.49" height="9.86" fill="#aa83fa" shape-rendering="crispEdges"/>
<rect x="289.50" y="1121.82" width="27.00" height="9.86" fill="#fed500" shape-rendering="crispEdges"/>
<rect x="326.80" y="1121.82" width="27.40" height="9.86" fill="#ad87f9" shape-rendering="crispEdges"/>
<rect x="171.80" y="1131.63" width="21.49" height="9.86" fill="#d3bef4" shape-rendering="crispEdges"/>
<rect x="193.24" y="1131.63" width="21.49" height="9.86" fill="#ffcbbd" shape-rendering="crispEdges"/>
<rect x="214.68" y="1131.63" width="21.49" height="9.86" fill="#d9c8f3" shape-rendering="crispEdges"/>
<rect x="236.12" y="1131.63" width="21.49" height="9.86" fill="#d2bcf4" shape-rendering="crispEdges"/>
<rect x="257.56" y="1131.63" width="21.49" height="9.86" fill="#aa83fa" shape-rendering="crispEdges"/>
<rect x="289.50" y="1131.63" width="27.00" height="9.86" fill="#fed500" shape-rendering="crispEdges"/>
<rect x="326.80" y="1131.63" width="27.40" height="9.86" fill="#aa83fa" shape-rendering="crispEdges"/>
<rect x="171.80" y="1141.44" width="21.49" height="9.86" fill="#dfd2f2" shape-rendering="crispEdges"/>
<rect x="193.24" y="1141.44" width="21.49" height="9.86" fill="#f1e9e7" shape-rendering="crispEdges"/>
<rect x="214.68" y="1141.44" width="21.49" height="9.86" fill="#cfb8f5" shape-rendering="crispEdges"/>
<rect x="236.12" y="1141.44" width="21.49" height="9.86" fill="#e1d6f1" shape-rendering="crispEdges"/>
<rect x="257.56" y="1141.44" width="21.49" height="9.86" fill="#a178fa" shape-rendering="crispEdges"/>
<rect x="289.50" y="1141.44" width="27.00" height="9.86" fill="#fed500" shape-rendering="crispEdges"/>
<rect x="326.80" y="1141.44" width="27.40" height="9.86" fill="#ad87f9" shape-rendering="crispEdges"/>
<rect x="171.80" y="1151.25" width="21.49" height="9.86" fill="#c4a7f7" shape-rendering="crispEdges"/>
<rect x="193.24" y="1151.25" width="21.49" height="9.86" fill="#fad7ce" shape-rendering="crispEdges"/>
<rect x="214.68" y="1151.25" width="21.49" height="9.86" fill="#d3bef4" shape-rendering="crispEdges"/>
<rect x="236.12" y="1151.25" width="21.49" height="9.86" fill="#e8e2f0" shape-rendering="crispEdges"/>
<rect x="257.56" y="1151.25" width="21.49" height="9.86" fill="#c3a5f7" shape-rendering="crispEdges"/>
<rect x="289.50" y="1151.25" width="27.00" height="9.86" fill="#fed500" shape-rendering="crispEdges"/>
<rect x="326.80" y="1151.25" width="27.40" height="9.86" fill="#aa83fa" shape-rendering="crispEdges"/>
<rect x="171.80" y="1161.06" width="21.49" height="9.86" fill="#c4a7f7" shape-rendering="crispEdges"/>
<rect x="193.24" y="1161.06" width="21.49" height="9.86" fill="#f9d9d1" shape-rendering="crispEdges"/>
<rect x="214.68" y="1161.06" width="21.49" height="9.86" fill="#b591f9" shape-rendering="crispEdges"/>
<rect x="236.12" y="1161.06" width="21.49" height="9.86" fill="#d9c8f3" shape-rendering="crispEdges"/>
<rect x="257.56" y="1161.06" width="21.49" height="9.86" fill="#dbccf3" shape-rendering="crispEdges"/>
<rect x="289.50" y="1161.06" width="27.00" height="9.86" fill="#fed500" shape-rendering="crispEdges"/>
<rect x="326.80" y="1161.06" width="27.40" height="9.86" fill="#aa83fa" shape-rendering="crispEdges"/>
<rect x="171.80" y="1170.87" width="21.49" height="9.86" fill="#c4a7f7" shape-rendering="crispEdges"/>
<rect x="193.24" y="1170.87" width="21.49" height="9.86" fill="#f9d9d1" shape-rendering="crispEdges"/>
<rect x="214.68" y="1170.87" width="21.49" height="9.86" fill="#b997f8" shape-rendering="crispEdges"/>
<rect x="236.12" y="1170.87" width="21.49" height="9.86" fill="#d9c8f3" shape-rendering="crispEdges"/>
<rect x="257.56" y="1170.87" width="21.49" height="9.86" fill="#d3bef4" shape-rendering="crispEdges"/>
<rect x="289.50" y="1170.87" width="27.00" height="9.86" fill="#fed500" shape-rendering="crispEdges"/>
<rect x="326.80" y="1170.87" width="27.40" height="9.86" fill="#a67efa" shape-rendering="crispEdges"/>
<rect x="171.80" y="709.80" width="107.20" height="470.88" fill="none" stroke="#000" stroke-width="1.15"/>
<rect x="289.50" y="709.80" width="27.00" height="470.88" fill="none" stroke="#000" stroke-width="1.15"/>
<rect x="326.80" y="709.80" width="27.40" height="470.88" fill="none" stroke="#000" stroke-width="1.15"/>
<defs><linearGradient id="gfdr" x1="0" y1="0" x2="0" y2="1"><stop offset="0" stop-color="#aa871a"/><stop offset="0.5" stop-color="#c9a212"/><stop offset="0.78" stop-color="#e2ba08"/><stop offset="1" stop-color="#f9d200"/></linearGradient>
<linearGradient id="gfch" x1="0" y1="0" x2="0" y2="1"><stop offset="0.0000" stop-color="#ff0000"/><stop offset="0.0167" stop-color="#ff0000"/><stop offset="0.0333" stop-color="#ff0000"/><stop offset="0.0500" stop-color="#ff0000"/><stop offset="0.0667" stop-color="#ff0000"/><stop offset="0.0833" stop-color="#ff1a09"/><stop offset="0.1000" stop-color="#ff3118"/><stop offset="0.1167" stop-color="#ff4124"/><stop offset="0.1333" stop-color="#ff4e2f"/><stop offset="0.1500" stop-color="#ff5939"/><stop offset="0.1667" stop-color="#ff6443"/><stop offset="0.1833" stop-color="#ff6e4d"/><stop offset="0.2000" stop-color="#ff7857"/><stop offset="0.2167" stop-color="#ff8162"/><stop offset="0.2333" stop-color="#ff8a6c"/><stop offset="0.2500" stop-color="#ff9376"/><stop offset="0.2667" stop-color="#ff9b80"/><stop offset="0.2833" stop-color="#ffa48a"/><stop offset="0.3000" stop-color="#ffac95"/><stop offset="0.3167" stop-color="#ffb49f"/><stop offset="0.3333" stop-color="#ffbcaa"/><stop offset="0.3500" stop-color="#ffc4b4"/><stop offset="0.3667" stop-color="#feccbf"/><stop offset="0.3833" stop-color="#fbd4ca"/><stop offset="0.4000" stop-color="#f8dcd5"/><stop offset="0.4167" stop-color="#f4e4e0"/><stop offset="0.4333" stop-color="#efeceb"/><stop offset="0.4500" stop-color="#ebe8ef"/><stop offset="0.4667" stop-color="#e6dff0"/><stop offset="0.4833" stop-color="#e1d6f1"/><stop offset="0.5000" stop-color="#dccdf2"/><stop offset="0.5167" stop-color="#d6c4f4"/><stop offset="0.5333" stop-color="#d1bbf5"/><stop offset="0.5500" stop-color="#cbb2f5"/><stop offset="0.5667" stop-color="#c6a9f6"/><stop offset="0.5833" stop-color="#c0a0f7"/><stop offset="0.6000" stop-color="#ba98f8"/><stop offset="0.6167" stop-color="#b38ff9"/><stop offset="0.6333" stop-color="#ac86f9"/><stop offset="0.6500" stop-color="#a67dfa"/><stop offset="0.6667" stop-color="#9e74fb"/><stop offset="0.6833" stop-color="#976cfb"/><stop offset="0.7000" stop-color="#8e63fc"/><stop offset="0.7167" stop-color="#865afc"/><stop offset="0.7333" stop-color="#7d51fd"/><stop offset="0.7500" stop-color="#7247fd"/><stop offset="0.7667" stop-color="#673efe"/><stop offset="0.7833" stop-color="#5b33fe"/><stop offset="0.8000" stop-color="#4c28fe"/><stop offset="0.8167" stop-color="#391bff"/><stop offset="0.8333" stop-color="#1908ff"/><stop offset="0.8500" stop-color="#0000ff"/><stop offset="0.8667" stop-color="#0000ff"/><stop offset="0.8833" stop-color="#0000ff"/><stop offset="0.9000" stop-color="#0000ff"/><stop offset="0.9167" stop-color="#0000ff"/><stop offset="0.9333" stop-color="#0000ff"/><stop offset="0.9500" stop-color="#0000ff"/><stop offset="0.9667" stop-color="#0000ff"/><stop offset="0.9833" stop-color="#0000ff"/><stop offset="1.0000" stop-color="#0000ff"/></linearGradient></defs>
<rect x="525.3" y="500.0" width="22.80" height="167.20" fill="url(#gfdr)"/>
<rect x="525.30" y="503.80" width="5.5" height="1.2" fill="#fff" opacity="0.9"/>
<rect x="542.60" y="503.80" width="5.5" height="1.2" fill="#fff" opacity="0.9"/>
<rect x="525.30" y="630.80" width="5.5" height="1.2" fill="#fff" opacity="0.9"/>
<rect x="542.60" y="630.80" width="5.5" height="1.2" fill="#fff" opacity="0.9"/>
<rect x="525.30" y="646.20" width="5.5" height="1.2" fill="#fff" opacity="0.9"/>
<rect x="542.60" y="646.20" width="5.5" height="1.2" fill="#fff" opacity="0.9"/>
<rect x="525.30" y="658.80" width="5.5" height="1.2" fill="#fff" opacity="0.9"/>
<rect x="542.60" y="658.80" width="5.5" height="1.2" fill="#fff" opacity="0.9"/>
<rect x="525.30" y="662.10" width="5.5" height="1.2" fill="#fff" opacity="0.9"/>
<rect x="542.60" y="662.10" width="5.5" height="1.2" fill="#fff" opacity="0.9"/>
<rect x="525.30" y="662.40" width="5.5" height="1.2" fill="#fff" opacity="0.9"/>
<rect x="542.60" y="662.40" width="5.5" height="1.2" fill="#fff" opacity="0.9"/>
<rect x="525.30" y="662.50" width="5.5" height="1.2" fill="#fff" opacity="0.9"/>
<rect x="542.60" y="662.50" width="5.5" height="1.2" fill="#fff" opacity="0.9"/>
<rect x="525.30" y="662.60" width="5.5" height="1.2" fill="#fff" opacity="0.9"/>
<rect x="542.60" y="662.60" width="5.5" height="1.2" fill="#fff" opacity="0.9"/>
<line x1="548.10" y1="504.40" x2="566.50" y2="504.40" stroke="#000" stroke-width="1.25"/>
<text x="568.6" y="509.95" font-size="14.3" fill="#000" stroke="#000" stroke-width="0.12">0.05</text>
<polyline points="548.10,631.40 554.2,631.40 561.4,553.60 566.5,553.60" fill="none" stroke="#000" stroke-width="1.25"/>
<text x="568.6" y="558.65" font-size="14.3" fill="#000" stroke="#000" stroke-width="0.12">0.01</text>
<polyline points="548.10,646.80 554.2,646.80 561.4,571.70 566.5,571.70" fill="none" stroke="#000" stroke-width="1.25"/>
<text x="568.6" y="576.75" font-size="14.3" fill="#000" stroke="#000" stroke-width="0.12">0.005</text>
<polyline points="548.10,659.40 554.2,659.40 561.4,589.90 566.5,589.90" fill="none" stroke="#000" stroke-width="1.25"/>
<text x="568.6" y="594.95" font-size="14.3" fill="#000" stroke="#000" stroke-width="0.12">0.001</text>
<polyline points="548.10,662.70 554.2,662.70 561.4,608.40 566.5,608.40" fill="none" stroke="#000" stroke-width="1.25"/>
<text x="568.6" y="613.45" font-size="14.3" fill="#000" stroke="#000" stroke-width="0.12">1e-04</text>
<polyline points="548.10,663.00 554.2,663.00 561.4,626.80 566.5,626.80" fill="none" stroke="#000" stroke-width="1.25"/>
<text x="568.6" y="631.85" font-size="14.3" fill="#000" stroke="#000" stroke-width="0.12">1e-05</text>
<polyline points="548.10,663.10 554.2,663.10 561.4,644.90 566.5,644.90" fill="none" stroke="#000" stroke-width="1.25"/>
<text x="568.6" y="649.95" font-size="14.3" fill="#000" stroke="#000" stroke-width="0.12">1e-07</text>
<polyline points="548.10,663.20 554.2,663.20 561.4,663.10 566.5,663.10" fill="none" stroke="#000" stroke-width="1.25"/>
<text x="568.6" y="668.15" font-size="14.3" fill="#000" stroke="#000" stroke-width="0.12">1e-09</text>
<rect x="525.2" y="708.9" width="23.00" height="122.60" fill="url(#gfch)"/>
<rect x="525.20" y="712.80" width="5.5" height="1.2" fill="#fff" opacity="0.9"/>
<rect x="542.70" y="712.80" width="5.5" height="1.2" fill="#fff" opacity="0.9"/>
<path d="M556.5 708.3L558.1 708.3L558.1 718.8L556.5 718.8Z M556.6 707.9L558.1 707.9L554.7 712.3L553.8 711.1Z" fill="#000"/>
<rect x="525.20" y="735.54" width="5.5" height="1.2" fill="#fff" opacity="0.9"/>
<rect x="542.70" y="735.54" width="5.5" height="1.2" fill="#fff" opacity="0.9"/>
<text x="552.6" y="741.19" font-size="14.3" fill="#000" stroke="#000" stroke-width="0.12">0.5</text>
<rect x="525.20" y="758.28" width="5.5" height="1.2" fill="#fff" opacity="0.9"/>
<rect x="542.70" y="758.28" width="5.5" height="1.2" fill="#fff" opacity="0.9"/>
<text x="552.6" y="763.93" font-size="14.3" fill="#000" stroke="#000" stroke-width="0.12">0</text>
<rect x="525.20" y="781.02" width="5.5" height="1.2" fill="#fff" opacity="0.9"/>
<rect x="542.70" y="781.02" width="5.5" height="1.2" fill="#fff" opacity="0.9"/>
<text x="552.6" y="786.67" font-size="14.3" fill="#000" stroke="#000" stroke-width="0.12">-0.5</text>
<rect x="525.20" y="803.76" width="5.5" height="1.2" fill="#fff" opacity="0.9"/>
<rect x="542.70" y="803.76" width="5.5" height="1.2" fill="#fff" opacity="0.9"/>
<text x="552.6" y="809.41" font-size="14.3" fill="#000" stroke="#000" stroke-width="0.12">-1</text>
<rect x="525.20" y="826.50" width="5.5" height="1.2" fill="#fff" opacity="0.9"/>
<rect x="542.70" y="826.50" width="5.5" height="1.2" fill="#fff" opacity="0.9"/>
<text x="552.6" y="832.15" font-size="14.3" fill="#000" stroke="#000" stroke-width="0.12">-1.5</text>
<path d="M164.80 134.50L164.80 144.31M164.80 134.50L169.70 134.50M164.80 144.31L169.70 144.31M163.40 139.41L163.40 154.12M163.40 139.41L164.80 139.41M163.40 154.12L169.70 154.12M166.83 173.75L166.83 183.56M166.83 173.75L169.70 173.75M166.83 183.56L169.70 183.56M166.31 163.94L166.31 178.65M166.31 163.94L169.70 163.94M166.31 178.65L166.83 178.65M167.16 193.37L167.16 203.18M167.16 193.37L169.70 193.37M167.16 203.18L169.70 203.18M165.32 171.29L165.32 198.27M165.32 171.29L166.31 171.29M165.32 198.27L167.16 198.27M166.74 212.99L166.74 222.80M166.74 212.99L169.70 212.99M166.74 222.80L169.70 222.80M166.95 232.61L166.95 242.42M166.95 232.61L169.70 232.61M166.95 242.42L169.70 242.42M165.93 217.89L165.93 237.51M165.93 217.89L166.74 217.89M165.93 237.51L166.95 237.51M162.70 184.78L162.70 227.70M162.70 184.78L165.32 184.78M162.70 227.70L165.93 227.70M158.10 146.50L158.10 202.00M158.10 146.50L163.40 146.50M158.10 202.00L162.70 202.00M167.40 257.81L167.40 267.62M167.40 257.81L169.70 257.81M167.40 267.62L169.70 267.62M167.61 277.43L167.61 287.24M167.61 277.43L169.70 277.43M167.61 287.24L169.70 287.24M166.46 282.33L166.46 297.05M166.46 282.33L167.61 282.33M166.46 297.05L169.70 297.05M167.27 306.86L167.27 316.67M167.27 306.86L169.70 306.86M167.27 316.67L169.70 316.67M166.71 336.29L166.71 346.10M166.71 336.29L169.70 336.29M166.71 346.10L169.70 346.10M166.69 326.48L166.69 341.19M166.69 326.48L169.70 326.48M166.69 341.19L166.71 341.19M165.52 311.76L165.52 333.83M165.52 311.76L167.27 311.76M165.52 333.83L166.69 333.83M164.04 289.69L164.04 322.80M164.04 289.69L166.46 289.69M164.04 322.80L165.52 322.80M164.30 262.71L164.30 306.24M164.30 262.71L167.40 262.71M164.30 306.24L164.04 306.24M167.17 365.72L167.17 375.52M167.17 365.72L169.70 365.72M167.17 375.52L169.70 375.52M166.19 355.91L166.19 370.62M166.19 355.91L169.70 355.91M166.19 370.62L167.17 370.62M167.29 385.34L167.29 395.14M167.29 385.34L169.70 385.34M167.29 395.14L169.70 395.14M165.47 363.26L165.47 390.24M165.47 363.26L166.19 363.26M165.47 390.24L167.29 390.24M167.06 414.76L167.06 424.58M167.06 414.76L169.70 414.76M167.06 424.58L169.70 424.58M167.20 434.38L167.20 444.20M167.20 434.38L169.70 434.38M167.20 444.20L169.70 444.20M165.76 419.67L165.76 439.29M165.76 419.67L167.06 419.67M165.76 439.29L167.20 439.29M165.37 404.96L165.37 429.48M165.37 404.96L169.70 404.96M165.37 429.48L165.76 429.48M163.71 376.75L163.71 417.22M163.71 376.75L165.47 376.75M163.71 417.22L165.37 417.22M167.58 463.82L167.58 473.62M167.58 463.82L169.70 463.82M167.58 473.62L169.70 473.62M165.50 454.00L165.50 468.72M165.50 454.00L169.70 454.00M165.50 468.72L167.58 468.72M163.00 396.98L163.00 461.36M163.00 396.98L163.71 396.98M163.00 461.36L165.50 461.36M161.40 284.48L161.40 429.17M161.40 284.48L164.30 284.48M161.40 429.17L163.00 429.17M166.73 483.44L166.73 493.25M166.73 483.44L169.70 483.44M166.73 493.25L169.70 493.25M166.90 503.06L166.90 512.87M166.90 503.06L169.70 503.06M166.90 512.87L169.70 512.87M163.60 488.34L163.60 507.96M163.60 488.34L166.73 488.34M163.60 507.96L166.90 507.96M157.00 371.60L157.00 498.15M157.00 371.60L161.40 371.60M157.00 498.15L163.60 498.15M167.04 532.49L167.04 542.30M167.04 532.49L169.70 532.49M167.04 542.30L169.70 542.30M166.26 537.39L166.26 552.11M166.26 537.39L167.04 537.39M166.26 552.11L169.70 552.11M165.33 522.68L165.33 544.75M165.33 522.68L169.70 522.68M165.33 544.75L166.26 544.75M167.07 581.53L167.07 591.35M167.07 581.53L169.70 581.53M167.07 591.35L169.70 591.35M166.33 586.44L166.33 601.15M166.33 586.44L167.07 586.44M166.33 601.15L169.70 601.15M165.51 571.73L165.51 593.80M165.51 571.73L169.70 571.73M165.51 593.80L166.33 593.80M165.82 561.92L165.82 582.76M165.82 561.92L169.70 561.92M165.82 582.76L165.51 582.76M164.48 533.71L164.48 572.34M164.48 533.71L165.33 533.71M164.48 572.34L165.82 572.34M166.99 610.97L166.99 620.77M166.99 610.97L169.70 610.97M166.99 620.77L169.70 620.77M167.61 640.39L167.61 650.21M167.61 640.39L169.70 640.39M167.61 650.21L169.70 650.21M166.17 630.59L166.17 645.30M166.17 630.59L169.70 630.59M166.17 645.30L167.61 645.30M165.64 615.87L165.64 637.94M165.64 615.87L166.99 615.87M165.64 637.94L166.17 637.94M167.45 679.63L167.45 689.45M167.45 679.63L169.70 679.63M167.45 689.45L169.70 689.45M165.87 684.54L165.87 699.25M165.87 684.54L167.45 684.54M165.87 699.25L169.70 699.25M165.43 669.83L165.43 691.90M165.43 669.83L169.70 669.83M165.43 691.90L165.87 691.90M165.62 660.01L165.62 680.86M165.62 660.01L169.70 660.01M165.62 680.86L165.43 680.86M164.08 626.91L164.08 670.44M164.08 626.91L165.64 626.91M164.08 670.44L165.62 670.44M158.50 553.02L158.50 648.67M158.50 553.02L164.48 553.02M158.50 648.67L164.08 648.67M152.90 436.60L152.90 610.00M152.90 436.60L157.00 436.60M152.90 610.00L158.50 610.00M167.64 714.70L167.64 724.51M167.64 714.70L169.70 714.70M167.64 724.51L169.70 724.51M167.29 734.32L167.29 744.13M167.29 734.32L169.70 734.32M167.29 744.13L169.70 744.13M166.63 739.23L166.63 753.94M166.63 739.23L167.29 739.23M166.63 753.94L169.70 753.94M165.31 719.61L165.31 746.59M165.31 719.61L167.64 719.61M165.31 746.59L166.63 746.59M166.92 773.56L166.92 783.38M166.92 773.56L169.70 773.56M166.92 783.38L169.70 783.38M166.85 763.75L166.85 778.47M166.85 763.75L169.70 763.75M166.85 778.47L166.92 778.47M167.62 793.18L167.62 803.00M167.62 793.18L169.70 793.18M167.62 803.00L169.70 803.00M164.98 771.11L164.98 798.09M164.98 771.11L166.85 771.11M164.98 798.09L167.62 798.09M163.69 733.10L163.69 784.60M163.69 733.10L165.31 733.10M163.69 784.60L164.98 784.60M166.69 832.42L166.69 842.23M166.69 832.42L169.70 832.42M166.69 842.23L169.70 842.23M166.86 822.62L166.86 837.33M166.86 822.62L169.70 822.62M166.86 837.33L166.69 837.33M165.51 829.97L165.51 852.04M165.51 829.97L166.86 829.97M165.51 852.04L169.70 852.04M165.86 812.80L165.86 841.01M165.86 812.80L169.70 812.80M165.86 841.01L165.51 841.01M167.48 861.86L167.48 871.66M167.48 861.86L169.70 861.86M167.48 871.66L169.70 871.66M166.12 866.76L166.12 881.47M166.12 866.76L167.48 866.76M166.12 881.47L169.70 881.47M167.04 891.28L167.04 901.10M167.04 891.28L169.70 891.28M167.04 901.10L169.70 901.10M165.01 874.12L165.01 896.19M165.01 874.12L166.12 874.12M165.01 896.19L167.04 896.19M164.32 826.91L164.32 885.15M164.32 826.91L165.86 826.91M164.32 885.15L165.01 885.15M163.30 758.85L163.30 856.03M163.30 758.85L163.69 758.85M163.30 856.03L164.32 856.03M167.23 920.71L167.23 930.52M167.23 920.71L169.70 920.71M167.23 930.52L169.70 930.52M165.93 910.90L165.93 925.62M165.93 910.90L169.70 910.90M165.93 925.62L167.23 925.62M161.40 918.26L161.40 940.34M161.40 918.26L165.93 918.26M161.40 940.34L169.70 940.34M166.78 950.14L166.78 959.95M166.78 950.14L169.70 950.14M166.78 959.95L169.70 959.95M166.23 955.05L166.23 969.76M166.23 955.05L166.78 955.05M166.23 969.76L169.70 969.76M167.52 979.58L167.52 989.38M167.52 979.58L169.70 979.58M167.52 989.38L169.70 989.38M166.83 999.19L166.83 1009.00M166.83 999.19L169.70 999.19M166.83 1009.00L169.70 1009.00M165.89 984.48L165.89 1004.10M165.89 984.48L167.52 984.48M165.89 1004.10L166.83 1004.10M164.45 962.41L164.45 994.29M164.45 962.41L166.23 962.41M164.45 994.29L165.89 994.29M167.38 1018.82L167.38 1028.62M167.38 1018.82L169.70 1018.82M167.38 1028.62L169.70 1028.62M166.81 1038.43L166.81 1048.24M166.81 1038.43L169.70 1038.43M166.81 1048.24L169.70 1048.24M166.12 1023.72L166.12 1043.34M166.12 1023.72L167.38 1023.72M166.12 1043.34L166.81 1043.34M167.34 1058.05L167.34 1067.87M167.34 1058.05L169.70 1058.05M167.34 1067.87L169.70 1067.87M167.25 1077.67L167.25 1087.48M167.25 1077.67L169.70 1077.67M167.25 1087.48L169.70 1087.48M166.25 1082.58L166.25 1097.30M166.25 1082.58L167.25 1082.58M166.25 1097.30L169.70 1097.30M165.49 1062.96L165.49 1089.94M165.49 1062.96L167.34 1062.96M165.49 1089.94L166.25 1089.94M163.87 1033.53L163.87 1076.45M163.87 1033.53L166.12 1033.53M163.87 1076.45L165.49 1076.45M162.60 978.35L162.60 1054.99M162.60 978.35L164.45 978.35M162.60 1054.99L163.87 1054.99M166.89 1116.91L166.89 1126.72M166.89 1116.91L169.70 1116.91M166.89 1126.72L169.70 1126.72M165.97 1121.82L165.97 1136.53M165.97 1121.82L166.89 1121.82M165.97 1136.53L169.70 1136.53M165.72 1107.11L165.72 1129.18M165.72 1107.11L169.70 1107.11M165.72 1129.18L165.97 1129.18M167.07 1146.35L167.07 1156.15M167.07 1146.35L169.70 1146.35M167.07 1156.15L169.70 1156.15M167.55 1165.96L167.55 1175.78M167.55 1165.96L169.70 1165.96M167.55 1175.78L169.70 1175.78M166.00 1151.25L166.00 1170.87M166.00 1151.25L167.07 1151.25M166.00 1170.87L167.55 1170.87M162.20 1118.14L162.20 1161.06M162.20 1118.14L165.72 1118.14M162.20 1161.06L166.00 1161.06M159.80 1016.67L159.80 1139.60M159.80 1016.67L162.60 1016.67M159.80 1139.60L162.20 1139.60M159.00 921.00L159.00 1078.13M159.00 921.00L161.40 921.00M159.00 1078.13L159.80 1078.13M155.30 811.80L155.30 1001.80M155.30 811.80L163.30 811.80M155.30 1001.80L159.00 1001.80M145.40 523.50L145.40 906.20M145.40 523.50L152.90 523.50M145.40 906.20L155.30 906.20M116.00 174.30L116.00 714.85M116.00 174.30L158.10 174.30M116.00 714.85L145.40 714.85" stroke="#000" stroke-width="1.15" fill="none" stroke-linecap="square"/><line x1="150.4" y1="147.1" x2="150.4" y2="933.5" stroke="#000" stroke-width="1.15" stroke-dasharray="2.7 5.3"/><path d="M82.3 476.3 L100.1 476.3 L100.1 478.45 L82.3 478.45 Z" fill="#000"/><path d="M82.0 476.6 L84.6 476.6 L88.9 482.1 L86.9 483.1 Z" fill="#000"/>
<text transform="translate(359.03,139.20) scale(0.1149,0.1135)" font-size="100" fill="#000" stroke="#000" stroke-width="1.06">CXCL9</text>
<text transform="translate(359.03,149.01) scale(0.1149,0.1135)" font-size="100" fill="#000" stroke="#000" stroke-width="1.06">CCL18</text>
<text transform="translate(359.03,158.82) scale(0.1149,0.1135)" font-size="100" fill="#000" stroke="#000" stroke-width="1.06">CXCL10</text>
<text transform="translate(359.03,168.63) scale(0.1149,0.1135)" font-size="100" fill="#000" stroke="#000" stroke-width="1.06">CD8A</text>
<text transform="translate(359.03,178.44) scale(0.1149,0.1135)" font-size="100" fill="#000" stroke="#000" stroke-width="1.06">GZMB</text>
<text transform="translate(358.68,188.25) scale(0.1149,0.1135)" font-size="100" fill="#000" stroke="#000" stroke-width="1.06">MS4A4A</text>
<text transform="translate(359.60,198.06) scale(0.1149,0.1135)" font-size="100" fill="#000" stroke="#000" stroke-width="1.06">ADAMDEC1</text>
<text transform="translate(359.37,207.87) scale(0.1149,0.1135)" font-size="100" fill="#000" stroke="#000" stroke-width="1.06">XCL1 /// XCL2</text>
<text transform="translate(359.37,217.68) scale(0.1149,0.1135)" font-size="100" fill="#000" stroke="#000" stroke-width="1.06">TARP /// TRGC2 /// TRGV9</text>
<text transform="translate(359.03,227.49) scale(0.1149,0.1135)" font-size="100" fill="#000" stroke="#000" stroke-width="1.06">GZMA</text>
<text transform="translate(359.03,237.30) scale(0.1149,0.1135)" font-size="100" fill="#000" stroke="#000" stroke-width="1.06">GZMK</text>
<text transform="translate(358.68,247.11) scale(0.1149,0.1135)" font-size="100" fill="#000" stroke="#000" stroke-width="1.06">KLRC4-KLRK1 /// KLRK1</text>
<text transform="translate(358.68,262.50) scale(0.1149,0.1135)" font-size="100" fill="#000" stroke="#000" stroke-width="1.06">KRTAP1-5</text>
<text transform="translate(358.68,272.31) scale(0.1149,0.1135)" font-size="100" fill="#000" stroke="#000" stroke-width="1.06">KRTAP4-6 /// LOC101930568</text>
<text transform="translate(358.68,282.12) scale(0.1149,0.1135)" font-size="100" fill="#000" stroke="#000" stroke-width="1.06">KRTAP4-1</text>
<text transform="translate(358.68,291.93) scale(0.1149,0.1135)" font-size="100" fill="#000" stroke="#000" stroke-width="1.06">KRTAP4-7</text>
<text transform="translate(358.68,301.74) scale(0.1149,0.1135)" font-size="100" fill="#000" stroke="#000" stroke-width="1.06">KRTAP1-1</text>
<text transform="translate(358.68,311.55) scale(0.1149,0.1135)" font-size="100" fill="#000" stroke="#000" stroke-width="1.06">KRTAP9-3</text>
<text transform="translate(358.68,321.36) scale(0.1149,0.1135)" font-size="100" fill="#000" stroke="#000" stroke-width="1.06">KRTAP2-1 /// KRTAP2-2</text>
<text transform="translate(358.68,331.17) scale(0.1149,0.1135)" font-size="100" fill="#000" stroke="#000" stroke-width="1.06">KRTAP4-11</text>
<text transform="translate(358.68,340.98) scale(0.1149,0.1135)" font-size="100" fill="#000" stroke="#000" stroke-width="1.06">KRTAP4-12</text>
<text transform="translate(358.68,350.79) scale(0.1149,0.1135)" font-size="100" fill="#000" stroke="#000" stroke-width="1.06">KRTAP9-4</text>
<text transform="translate(358.68,360.60) scale(0.1149,0.1135)" font-size="100" fill="#000" stroke="#000" stroke-width="1.06">KRT33A</text>
<text transform="translate(358.68,370.41) scale(0.1149,0.1135)" font-size="100" fill="#000" stroke="#000" stroke-width="1.06">KRTAP4-3</text>
<text transform="translate(358.68,380.22) scale(0.1149,0.1135)" font-size="100" fill="#000" stroke="#000" stroke-width="1.06">KRTAP4-8</text>
<text transform="translate(358.68,390.03) scale(0.1149,0.1135)" font-size="100" fill="#000" stroke="#000" stroke-width="1.06">KRTAP1-3</text>
<text transform="translate(358.68,399.84) scale(0.1149,0.1135)" font-size="100" fill="#000" stroke="#000" stroke-width="1.06">KRTAP3-3</text>
<text transform="translate(358.68,409.65) scale(0.1149,0.1135)" font-size="100" fill="#000" stroke="#000" stroke-width="1.06">KRTAP3-1</text>
<text transform="translate(358.68,419.46) scale(0.1149,0.1135)" font-size="100" fill="#000" stroke="#000" stroke-width="1.06">KRT81</text>
<text transform="translate(358.68,429.27) scale(0.1149,0.1135)" font-size="100" fill="#000" stroke="#000" stroke-width="1.06">KRTAP11-1</text>
<text transform="translate(358.68,439.08) scale(0.1149,0.1135)" font-size="100" fill="#000" stroke="#000" stroke-width="1.06">KRT32</text>
<text transform="translate(358.68,448.89) scale(0.1149,0.1135)" font-size="100" fill="#000" stroke="#000" stroke-width="1.06">KRT35</text>
<text transform="translate(358.68,458.70) scale(0.1149,0.1135)" font-size="100" fill="#000" stroke="#000" stroke-width="1.06">KRTAP19-1</text>
<text transform="translate(358.68,468.51) scale(0.1149,0.1135)" font-size="100" fill="#000" stroke="#000" stroke-width="1.06">KRTAP4-5</text>
<text transform="translate(358.68,478.32) scale(0.1149,0.1135)" font-size="100" fill="#000" stroke="#000" stroke-width="1.06">KRTAP2-1</text>
<text transform="translate(358.68,488.13) scale(0.1149,0.1135)" font-size="100" fill="#000" stroke="#000" stroke-width="1.06">KRTAP7-1</text>
<text transform="translate(358.68,497.94) scale(0.1149,0.1135)" font-size="100" fill="#000" stroke="#000" stroke-width="1.06">KRTAP4-4</text>
<text transform="translate(358.68,507.75) scale(0.1149,0.1135)" font-size="100" fill="#000" stroke="#000" stroke-width="1.06">KRTAP9-9</text>
<text transform="translate(358.68,517.57) scale(0.1149,0.1135)" font-size="100" fill="#000" stroke="#000" stroke-width="1.06">KRTAP8-1</text>
<text transform="translate(358.68,527.38) scale(0.1149,0.1135)" font-size="100" fill="#000" stroke="#000" stroke-width="1.06">PIRT</text>
<text transform="translate(358.68,537.19) scale(0.1149,0.1135)" font-size="100" fill="#000" stroke="#000" stroke-width="1.06">FGF18</text>
<text transform="translate(358.68,547.00) scale(0.1149,0.1135)" font-size="100" fill="#000" stroke="#000" stroke-width="1.06">LOC101928881</text>
<text transform="translate(358.68,556.81) scale(0.1149,0.1135)" font-size="100" fill="#000" stroke="#000" stroke-width="1.06">KRTAP5-8</text>
<text transform="translate(358.68,566.62) scale(0.1149,0.1135)" font-size="100" fill="#000" stroke="#000" stroke-width="1.06">KRTAP10-11</text>
<text transform="translate(358.68,576.43) scale(0.1149,0.1135)" font-size="100" fill="#000" stroke="#000" stroke-width="1.06">LY6G6D /// LY6G6F</text>
<text transform="translate(359.03,586.24) scale(0.1149,0.1135)" font-size="100" fill="#000" stroke="#000" stroke-width="1.06">CHAC1</text>
<text transform="translate(358.68,596.05) scale(0.1149,0.1135)" font-size="100" fill="#000" stroke="#000" stroke-width="1.06">KRT83</text>
<text transform="translate(358.68,605.86) scale(0.1149,0.1135)" font-size="100" fill="#000" stroke="#000" stroke-width="1.06">KRTAP13-1</text>
<text transform="translate(358.68,615.67) scale(0.1149,0.1135)" font-size="100" fill="#000" stroke="#000" stroke-width="1.06">KRTAP17-1</text>
<text transform="translate(358.68,625.48) scale(0.1149,0.1135)" font-size="100" fill="#000" stroke="#000" stroke-width="1.06">KRT82</text>
<text transform="translate(359.03,635.29) scale(0.1149,0.1135)" font-size="100" fill="#000" stroke="#000" stroke-width="1.06">CST1</text>
<text transform="translate(358.68,645.10) scale(0.1149,0.1135)" font-size="100" fill="#000" stroke="#000" stroke-width="1.06">KRTAP10-12 /// KRTAP10-7</text>
<text transform="translate(358.68,654.91) scale(0.1149,0.1135)" font-size="100" fill="#000" stroke="#000" stroke-width="1.06">KRT40</text>
<text transform="translate(358.68,664.72) scale(0.1149,0.1135)" font-size="100" fill="#000" stroke="#000" stroke-width="1.06">KRT33B</text>
<text transform="translate(358.68,674.53) scale(0.1149,0.1135)" font-size="100" fill="#000" stroke="#000" stroke-width="1.06">KRTAP2-3 /// KRTAP2-4</text>
<text transform="translate(358.68,684.34) scale(0.1149,0.1135)" font-size="100" fill="#000" stroke="#000" stroke-width="1.06">KRTAP4-2</text>
<text transform="translate(359.03,694.15) scale(0.1149,0.1135)" font-size="100" fill="#000" stroke="#000" stroke-width="1.06">GPRC5D</text>
<text transform="translate(358.68,703.96) scale(0.1149,0.1135)" font-size="100" fill="#000" stroke="#000" stroke-width="1.06">DSG4</text>
<text transform="translate(358.68,719.40) scale(0.1149,0.1135)" font-size="100" fill="#000" stroke="#000" stroke-width="1.06">PPP1R1C</text>
<text transform="translate(359.03,729.21) scale(0.1149,0.1135)" font-size="100" fill="#000" stroke="#000" stroke-width="1.06">CST4</text>
<text transform="translate(359.03,739.02) scale(0.1149,0.1135)" font-size="100" fill="#000" stroke="#000" stroke-width="1.06">CTNND2</text>
<text transform="translate(359.03,748.83) scale(0.1149,0.1135)" font-size="100" fill="#000" stroke="#000" stroke-width="1.06">CREB5 /// LOC401317</text>
<text transform="translate(358.68,758.64) scale(0.1149,0.1135)" font-size="100" fill="#000" stroke="#000" stroke-width="1.06">RIMS2</text>
<text transform="translate(359.03,768.45) scale(0.1149,0.1135)" font-size="100" fill="#000" stroke="#000" stroke-width="1.06">CRNN</text>
<text transform="translate(358.68,778.26) scale(0.1149,0.1135)" font-size="100" fill="#000" stroke="#000" stroke-width="1.06">KRT72</text>
<text transform="translate(359.14,788.07) scale(0.1149,0.1135)" font-size="100" fill="#000" stroke="#000" stroke-width="1.06">SLN</text>
<text transform="translate(358.68,797.88) scale(0.1149,0.1135)" font-size="100" fill="#000" stroke="#000" stroke-width="1.06">MSX2</text>
<text transform="translate(358.68,807.69) scale(0.1149,0.1135)" font-size="100" fill="#000" stroke="#000" stroke-width="1.06">BNC2</text>
<text transform="translate(359.60,817.50) scale(0.1149,0.1135)" font-size="100" fill="#000" stroke="#000" stroke-width="1.06">ALDOB</text>
<text transform="translate(358.68,827.31) scale(0.1149,0.1135)" font-size="100" fill="#000" stroke="#000" stroke-width="1.06">LYPD6</text>
<text transform="translate(359.14,837.12) scale(0.1149,0.1135)" font-size="100" fill="#000" stroke="#000" stroke-width="1.06">SLC1A6</text>
<text transform="translate(359.60,846.93) scale(0.1149,0.1135)" font-size="100" fill="#000" stroke="#000" stroke-width="1.06">ATP8A2</text>
<text transform="translate(359.03,856.75) scale(0.1149,0.1135)" font-size="100" fill="#000" stroke="#000" stroke-width="1.06">CBLN2</text>
<text transform="translate(359.14,866.55) scale(0.1149,0.1135)" font-size="100" fill="#000" stroke="#000" stroke-width="1.06">OXCT2</text>
<text transform="translate(359.60,876.37) scale(0.1149,0.1135)" font-size="100" fill="#000" stroke="#000" stroke-width="1.06">WNK4</text>
<text transform="translate(358.68,886.17) scale(0.1149,0.1135)" font-size="100" fill="#000" stroke="#000" stroke-width="1.06">KRT84</text>
<text transform="translate(359.03,895.99) scale(0.1149,0.1135)" font-size="100" fill="#000" stroke="#000" stroke-width="1.06">C1orf168</text>
<text transform="translate(358.68,905.79) scale(0.1149,0.1135)" font-size="100" fill="#000" stroke="#000" stroke-width="1.06">RNF182</text>
<text transform="translate(358.68,915.61) scale(0.1149,0.1135)" font-size="100" fill="#000" stroke="#000" stroke-width="1.06">LYG2</text>
<text transform="translate(358.68,925.41) scale(0.1149,0.1135)" font-size="100" fill="#000" stroke="#000" stroke-width="1.06">KRTAP9-2 /// KRTAP9-8</text>
<text transform="translate(358.68,935.23) scale(0.1149,0.1135)" font-size="100" fill="#000" stroke="#000" stroke-width="1.06">LOC100505782</text>
<text transform="translate(359.26,945.03) scale(0.1149,0.1135)" font-size="100" fill="#000" stroke="#000" stroke-width="1.06">ZAR1</text>
<text transform="translate(359.37,954.85) scale(0.1149,0.1135)" font-size="100" fill="#000" stroke="#000" stroke-width="1.06">TDH</text>
<text transform="translate(359.03,964.65) scale(0.1149,0.1135)" font-size="100" fill="#000" stroke="#000" stroke-width="1.06">CSDC2</text>
<text transform="translate(359.60,974.46) scale(0.1149,0.1135)" font-size="100" fill="#000" stroke="#000" stroke-width="1.06">ANGPTL7</text>
<text transform="translate(358.68,984.27) scale(0.1149,0.1135)" font-size="100" fill="#000" stroke="#000" stroke-width="1.06">MIR31HG</text>
<text transform="translate(358.68,994.09) scale(0.1149,0.1135)" font-size="100" fill="#000" stroke="#000" stroke-width="1.06">RP11-315F22.1</text>
<text transform="translate(358.68,1003.89) scale(0.1149,0.1135)" font-size="100" fill="#000" stroke="#000" stroke-width="1.06">FGF5</text>
<text transform="translate(358.68,1013.70) scale(0.1149,0.1135)" font-size="100" fill="#000" stroke="#000" stroke-width="1.06">DMBT1</text>
<text transform="translate(358.68,1023.51) scale(0.1149,0.1135)" font-size="100" fill="#000" stroke="#000" stroke-width="1.06">KRT31</text>
<text transform="translate(358.68,1033.33) scale(0.1149,0.1135)" font-size="100" fill="#000" stroke="#000" stroke-width="1.06">KRT86 /// LOC100509764</text>
<text transform="translate(358.68,1043.13) scale(0.1149,0.1135)" font-size="100" fill="#000" stroke="#000" stroke-width="1.06">FAM49A</text>
<text transform="translate(359.14,1052.94) scale(0.1149,0.1135)" font-size="100" fill="#000" stroke="#000" stroke-width="1.06">S100A3</text>
<text transform="translate(359.14,1062.76) scale(0.1149,0.1135)" font-size="100" fill="#000" stroke="#000" stroke-width="1.06">SMTNL2</text>
<text transform="translate(358.68,1072.57) scale(0.1149,0.1135)" font-size="100" fill="#000" stroke="#000" stroke-width="1.06">LOC101929478</text>
<text transform="translate(358.68,1082.38) scale(0.1149,0.1135)" font-size="100" fill="#000" stroke="#000" stroke-width="1.06">KRTAP4-9</text>
<text transform="translate(359.03,1092.18) scale(0.1149,0.1135)" font-size="100" fill="#000" stroke="#000" stroke-width="1.06">COMP</text>
<text transform="translate(358.68,1101.99) scale(0.1149,0.1135)" font-size="100" fill="#000" stroke="#000" stroke-width="1.06">KRT85</text>
<text transform="translate(358.68,1111.81) scale(0.1149,0.1135)" font-size="100" fill="#000" stroke="#000" stroke-width="1.06">KRTAP5-9</text>
<text transform="translate(358.68,1121.62) scale(0.1149,0.1135)" font-size="100" fill="#000" stroke="#000" stroke-width="1.06">KRT38</text>
<text transform="translate(358.68,1131.42) scale(0.1149,0.1135)" font-size="100" fill="#000" stroke="#000" stroke-width="1.06">KRT73</text>
<text transform="translate(358.68,1141.24) scale(0.1149,0.1135)" font-size="100" fill="#000" stroke="#000" stroke-width="1.06">KRTAP19-3</text>
<text transform="translate(358.68,1151.05) scale(0.1149,0.1135)" font-size="100" fill="#000" stroke="#000" stroke-width="1.06">PADI3</text>
<text transform="translate(358.68,1160.86) scale(0.1149,0.1135)" font-size="100" fill="#000" stroke="#000" stroke-width="1.06">KRTAP9-8</text>
<text transform="translate(358.68,1170.66) scale(0.1149,0.1135)" font-size="100" fill="#000" stroke="#000" stroke-width="1.06">KRTAP3-2</text>
<text transform="translate(358.68,1180.47) scale(0.1149,0.1135)" font-size="100" fill="#000" stroke="#000" stroke-width="1.06">KRT34 /// LOC100653049</text>
<text transform="translate(2.24,27.13) scale(0.2409,0.2676)" font-size="100" font-weight="bold" fill="#000" stroke="#000" stroke-width="1.12">C</text>
<text transform="translate(171.95,15.66) scale(0.1700,0.1650)" font-size="100" fill="#000" stroke="#000" stroke-width="0.73">GEO datasets</text>
<text transform="translate(187.12,124.06) rotate(-90) scale(0.1330,0.1330)" font-size="100" fill="#46302a" stroke="#46302a" stroke-width="0.90">FC_GSE68801</text>
<text transform="translate(208.56,124.06) rotate(-90) scale(0.1330,0.1330)" font-size="100" fill="#68671f" stroke="#68671f" stroke-width="0.90">FC_GSE45512</text>
<text transform="translate(230.00,124.06) rotate(-90) scale(0.1330,0.1330)" font-size="100" fill="#41375a" stroke="#41375a" stroke-width="0.90">FC_GSE80342</text>
<text transform="translate(251.44,124.06) rotate(-90) scale(0.1330,0.1330)" font-size="100" fill="#2d6a4e" stroke="#2d6a4e" stroke-width="0.90">FC_GSE58573</text>
<text transform="translate(272.88,124.06) rotate(-90) scale(0.1330,0.1330)" font-size="100" fill="#4f6131" stroke="#4f6131" stroke-width="0.90">FC_GSE74761</text>
<text transform="translate(306.90,124.05) rotate(-90) scale(0.1317,0.1330)" font-size="100" fill="#000" stroke="#000" stroke-width="0.90">FDR</text>
<text transform="translate(345.10,124.05) rotate(-90) scale(0.1317,0.1330)" font-size="100" fill="#000" stroke="#000" stroke-width="0.90">FC_mean</text>
<text transform="translate(62.10,523.47) rotate(-90) scale(0.4786,0.4986)" font-size="100" font-weight="bold" fill="#1676be" stroke="#1676be" stroke-width="0.00">META-ANALYSIS</text>
<text transform="translate(99.95,194.78) rotate(-90) scale(0.2265,0.2493)" font-size="100" fill="#000" stroke="#000" stroke-width="1.81">3</text>
<text transform="translate(99.90,952.50) rotate(-90) scale(0.2609,0.2514)" font-size="100" fill="#000" stroke="#000" stroke-width="1.79">2</text>
<text transform="translate(525.29,490.80) scale(0.1512,0.1420)" font-size="100" fill="#000" stroke="#000" stroke-width="0.85">FDR p-value</text>
<text transform="translate(525.47,698.80) scale(0.1541,0.1440)" font-size="100" fill="#000" stroke="#000" stroke-width="0.83">FCH</text>
</svg>
</body></html>
